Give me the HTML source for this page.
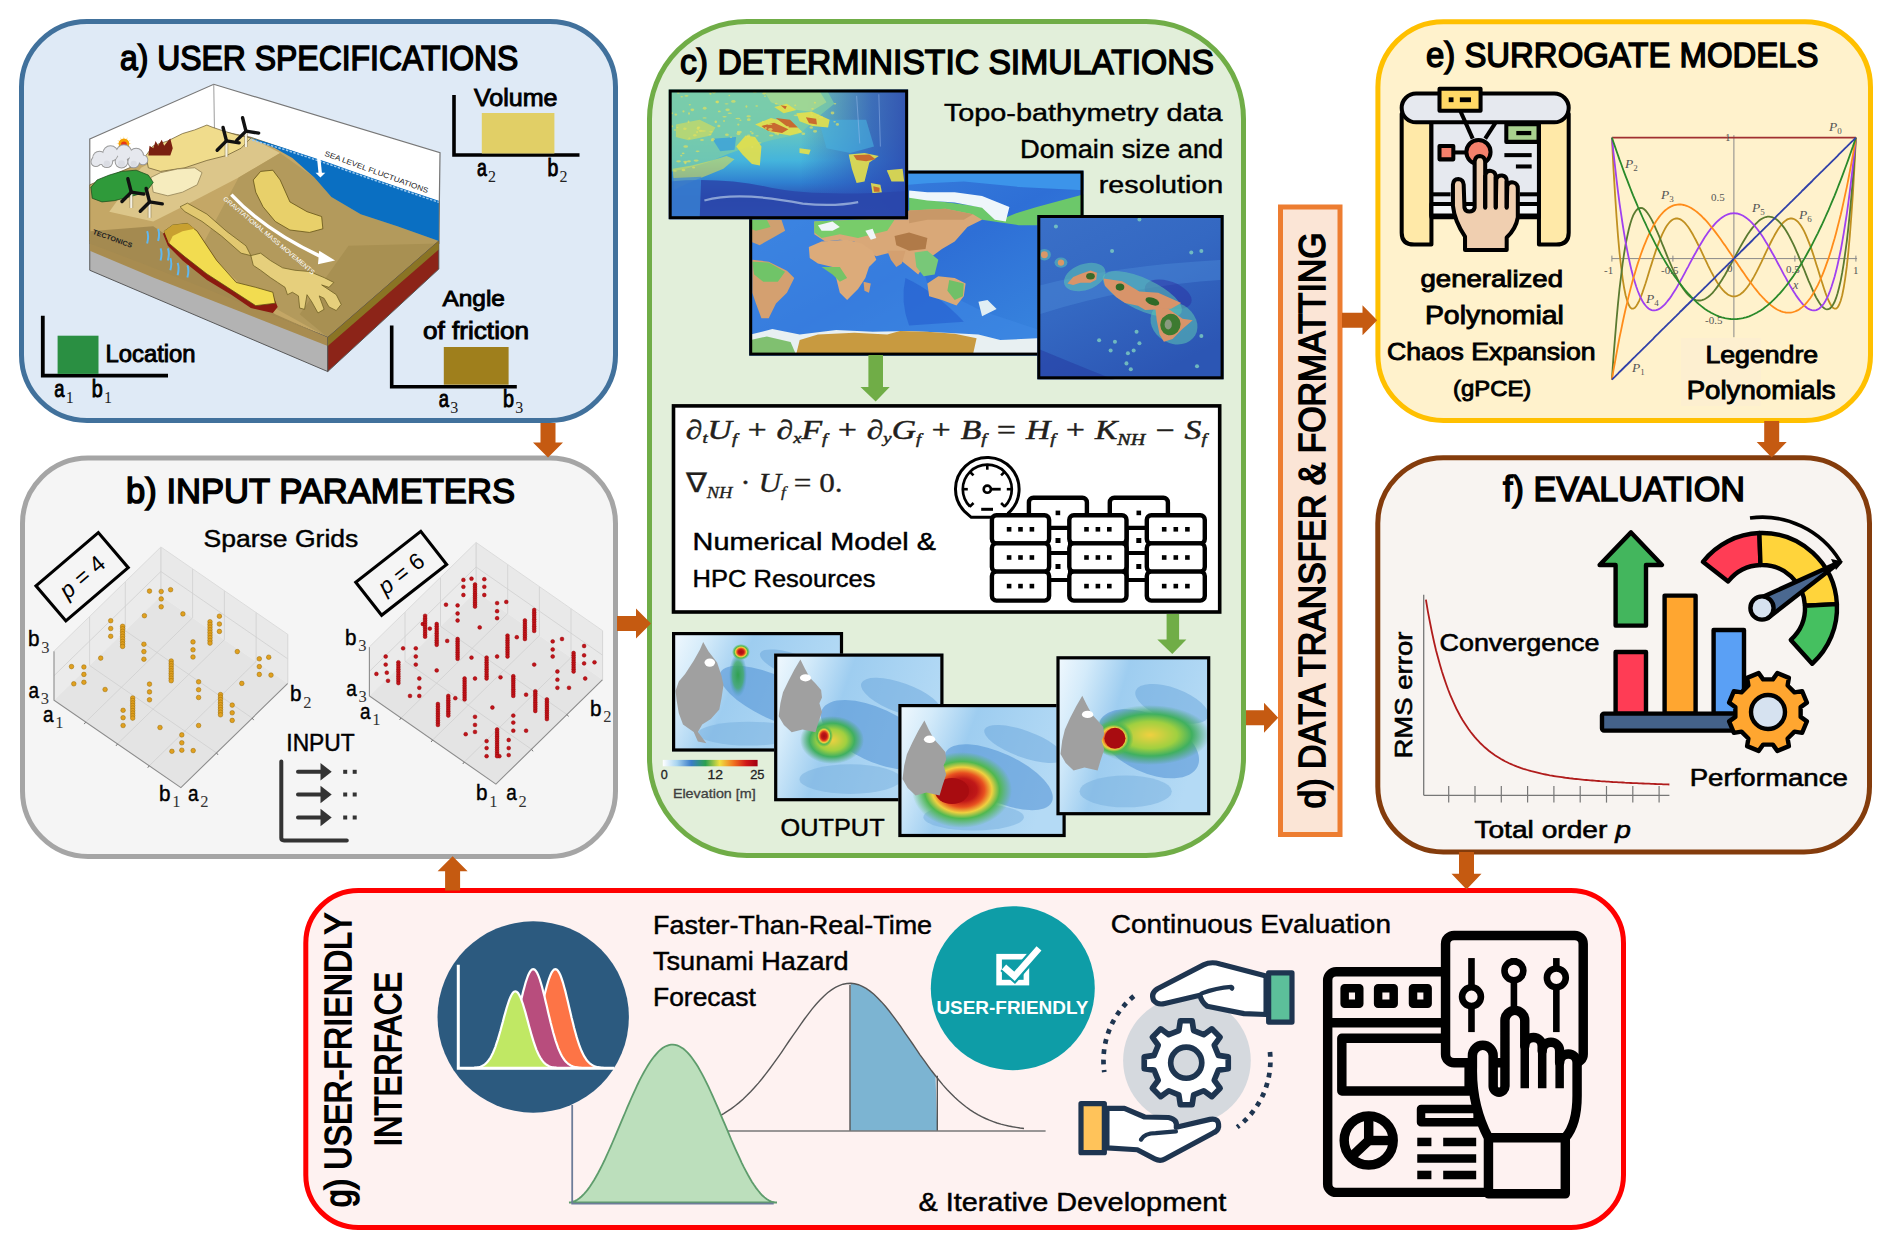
<!DOCTYPE html><html><head><meta charset="utf-8"><style>html,body{margin:0;padding:0;background:#fff;overflow:hidden;width:1892px;height:1250px;}svg{display:block;}svg{font-family:"Liberation Sans",sans-serif;}</style></head><body>
<svg width="1892" height="1250" viewBox="0 0 1892 1250">
<rect width="1892" height="1250" fill="#fff"/>
<rect x="21.5" y="21.5" width="594" height="399" rx="65.5" fill="#dfeaf6" stroke="#41719c" stroke-width="5"/>
<rect x="22.5" y="458.0" width="593" height="398.5" rx="65.5" fill="#f5f5f5" stroke="#a5a5a5" stroke-width="5"/>
<rect x="649.5" y="21.5" width="594" height="834" rx="97.5" fill="#e2efda" stroke="#70ad47" stroke-width="5"/>
<rect x="1280.5" y="207.0" width="59.5" height="627.5" rx="-2.5" fill="#fbe5d6" stroke="#ed7d31" stroke-width="5"/>
<rect x="1377.9" y="21.7" width="492.5999999999999" height="398.8" rx="65.5" fill="#fff2cc" stroke="#ffc000" stroke-width="5"/>
<rect x="1377.8" y="457.8" width="491.70000000000005" height="394.09999999999997" rx="65.5" fill="#f8f4f1" stroke="#843c0c" stroke-width="5"/>
<rect x="305.8" y="890.5" width="1317.7" height="337" rx="52.5" fill="#fef2f1" stroke="#ff0000" stroke-width="5"/>
<polygon points="540.5,423 555.5,423 555.5,442.4 563.0,442.4 548,457.6 533.0,442.4 540.5,442.4" fill="#c55a11"/>
<polygon points="617,616.1 636,616.1 636,608.6 651,623.6 636,638.6 636,631.1 617,631.1" fill="#c55a11"/>
<polygon points="1246,710.2 1264,710.2 1264,702.7 1278.2,717.7 1264,732.7 1264,725.2 1246,725.2" fill="#c55a11"/>
<polygon points="1342,312.7 1362.5,312.7 1362.5,305.2 1377.2,320.2 1362.5,335.2 1362.5,327.7 1342,327.7" fill="#c55a11"/>
<polygon points="1764.2,421 1779.2,421 1779.2,442 1786.7,442 1771.7,457.4 1756.7,442 1764.2,442" fill="#c55a11"/>
<polygon points="1459.0,852 1474.0,852 1474.0,873.8 1481.5,873.8 1466.5,889.4 1451.5,873.8 1459.0,873.8" fill="#c55a11"/>
<polygon points="445.1,890.4 460.1,890.4 460.1,871.2 467.6,871.2 452.6,856.3 437.6,871.2 445.1,871.2" fill="#c55a11"/>
<text x="120.0" y="70.0" font-size="35.65" fill="#000" stroke="#000" stroke-width="1.5" textLength="398.4" lengthAdjust="spacingAndGlyphs">a) USER SPECIFICATIONS</text>
<text x="126.0" y="502.8" font-size="35.65" fill="#000" stroke="#000" stroke-width="1.5" textLength="389.0" lengthAdjust="spacingAndGlyphs">b) INPUT PARAMETERS</text>
<text x="680.0" y="73.5" font-size="35.65" fill="#000" stroke="#000" stroke-width="1.5" textLength="534.0" lengthAdjust="spacingAndGlyphs">c) DETERMINISTIC SIMULATIONS</text>
<text x="1426.0" y="66.5" font-size="35.65" fill="#000" stroke="#000" stroke-width="1.5" textLength="392.5" lengthAdjust="spacingAndGlyphs">e) SURROGATE MODELS</text>
<text x="1503.0" y="500.7" font-size="35.65" fill="#000" stroke="#000" stroke-width="1.5" textLength="242.0" lengthAdjust="spacingAndGlyphs">f) EVALUATION</text>
<g transform="translate(1324.8,808.4) rotate(-90)">
<text x="0.0" y="0.0" font-size="36.23" fill="#000" stroke="#000" stroke-width="1.5" textLength="576.0" lengthAdjust="spacingAndGlyphs">d) DATA TRANSFER &amp; FORMATTING</text>
</g>
<g transform="translate(351.2,1207.3) rotate(-90)">
<text x="0.0" y="0.0" font-size="36.23" fill="#000" stroke="#000" stroke-width="1.5" textLength="294.4" lengthAdjust="spacingAndGlyphs">g) USER-FRIENDLY</text>
</g>
<g transform="translate(400.9,1146.6) rotate(-90)">
<text x="0.0" y="0.0" font-size="36.96" fill="#000" stroke="#000" stroke-width="1.5" textLength="174.6" lengthAdjust="spacingAndGlyphs">INTERFACE</text>
</g>
<g transform="translate(80,75) scale(0.24408)">
<polygon points="40,262 548,38 1475,318 1470,690 40,690" fill="#ffffff" stroke="#777" stroke-width="5"/>
<line x1="548" y1="38" x2="552" y2="300" stroke="#999" stroke-width="4"/>
<polygon points="40,450 250,360 548,225 700,255 1470,520 1470,680 1015,1075 40,680" fill="#c4a766" stroke="#6b5a30" stroke-width="3"/>
<polygon points="250,380 548,230 700,258 820,320 650,420 420,540 300,600 120,560" fill="#dcc68a"/>
<polygon points="820,320 960,420 1030,500 1150,570 1300,620 1470,680 1015,1075 700,900 500,700 650,420" fill="#b39a5c"/>
<polygon points="1100,700 1470,690 1015,1075 900,980" fill="#a89052"/>
<path d="M690,255 L760,275 840,300 930,330 1020,360 1120,395 1220,430 1320,465 1470,515 L1470,680 1300,620 1150,570 1030,500 960,420 870,340 800,300 Z" fill="#0a6fc2"/>
<path d="M690,262 L840,306 1020,366 1220,436 1470,522" fill="none" stroke="#9cc8ec" stroke-width="6" stroke-dasharray="10,6"/>
<path d="M270,330 L300,290 360,270 420,240 470,225 520,205 545,215 590,230 640,245 700,258 660,300 600,330 520,350 430,380 330,395 280,380 Z" fill="#f0dc8c" stroke="#6b5a30" stroke-width="3"/>
<path d="M290,420 L330,400 400,385 470,380 500,400 480,450 420,480 360,495 300,480 Z" fill="#f6ecbe" stroke="#8a7a50" stroke-width="3"/>
<path d="M45,460 L70,430 120,410 170,395 230,390 280,410 300,440 270,480 200,500 140,515 90,520 50,505 Z" fill="#2f9a3a" stroke="#1a4a1a" stroke-width="3"/>
<g fill="#f5b000"><polygon points="200,281 212,282 200,283"/><polygon points="198,291 208,298 197,293"/><polygon points="191,299 196,310 189,300"/><polygon points="181,302 180,314 179,302"/><polygon points="171,300 164,310 169,299"/><polygon points="163,293 152,298 162,291"/><polygon points="160,283 148,282 160,281"/><polygon points="162,273 152,266 163,271"/><polygon points="169,265 164,254 171,264"/><polygon points="179,262 180,250 181,262"/><polygon points="189,264 196,254 191,265"/><polygon points="197,271 208,266 198,273"/></g>
<circle cx="180" cy="282" r="22" fill="#f5a000"/><circle cx="180" cy="284" r="12" fill="#e83818"/>
<g fill="#999"><circle cx="80" cy="340" r="30"/><circle cx="125" cy="322" r="34"/><circle cx="180" cy="318" r="34"/><circle cx="230" cy="330" r="32"/><circle cx="258" cy="348" r="22"/><circle cx="110" cy="355" r="26"/><circle cx="170" cy="355" r="28"/><circle cx="220" cy="356" r="26"/><circle cx="65" cy="355" r="22"/></g>
<g fill="#e6e8ee"><circle cx="80" cy="340" r="26"/><circle cx="125" cy="322" r="30"/><circle cx="180" cy="318" r="30"/><circle cx="230" cy="330" r="28"/><circle cx="258" cy="348" r="18"/><circle cx="110" cy="355" r="22"/><circle cx="170" cy="355" r="24"/><circle cx="220" cy="356" r="22"/><circle cx="65" cy="355" r="18"/></g>
<g fill="#dadce3"><circle cx="110" cy="363" r="13"/><circle cx="170" cy="363" r="14"/><circle cx="220" cy="364" r="13"/></g>
<polygon points="280,330 285,290 300,300 310,270 320,290 335,265 345,290 360,270 370,260 380,300 370,330" fill="#7a2010"/>
<line x1="600" y1="270" x2="600" y2="335" stroke="#f4f0e0" stroke-width="10"/><line x1="594" y1="278" x2="594" y2="335" stroke="#8a7a50" stroke-width="2"/><line x1="606" y1="278" x2="606" y2="335" stroke="#8a7a50" stroke-width="2"/>
<g stroke="#111" stroke-linecap="round"><line x1="600" y1="270" x2="586" y2="215" stroke-width="14"/><line x1="600" y1="270" x2="652" y2="278" stroke-width="14"/><line x1="600" y1="270" x2="562" y2="308" stroke-width="14"/></g>
<line x1="680" y1="230" x2="680" y2="295" stroke="#f4f0e0" stroke-width="10"/><line x1="674" y1="238" x2="674" y2="295" stroke="#8a7a50" stroke-width="2"/><line x1="686" y1="238" x2="686" y2="295" stroke="#8a7a50" stroke-width="2"/>
<g stroke="#111" stroke-linecap="round"><line x1="680" y1="230" x2="666" y2="175" stroke-width="14"/><line x1="680" y1="230" x2="732" y2="238" stroke-width="14"/><line x1="680" y1="230" x2="642" y2="268" stroke-width="14"/></g>
<line x1="210" y1="480" x2="210" y2="545" stroke="#f4f0e0" stroke-width="10"/><line x1="204" y1="488" x2="204" y2="545" stroke="#8a7a50" stroke-width="2"/><line x1="216" y1="488" x2="216" y2="545" stroke="#8a7a50" stroke-width="2"/>
<g stroke="#111" stroke-linecap="round"><line x1="210" y1="480" x2="196" y2="425" stroke-width="14"/><line x1="210" y1="480" x2="262" y2="488" stroke-width="14"/><line x1="210" y1="480" x2="172" y2="518" stroke-width="14"/></g>
<line x1="285" y1="520" x2="285" y2="585" stroke="#f4f0e0" stroke-width="10"/><line x1="279" y1="528" x2="279" y2="585" stroke="#8a7a50" stroke-width="2"/><line x1="291" y1="528" x2="291" y2="585" stroke="#8a7a50" stroke-width="2"/>
<g stroke="#111" stroke-linecap="round"><line x1="285" y1="520" x2="271" y2="465" stroke-width="14"/><line x1="285" y1="520" x2="337" y2="528" stroke-width="14"/><line x1="285" y1="520" x2="247" y2="558" stroke-width="14"/></g>
<polygon points="40,680 1015,1075 1015,1215 40,800" fill="#b3b3b3" stroke="#555" stroke-width="4"/>
<polygon points="40,680 300,780 1015,1075 1015,1110 300,830 40,720" fill="#a88c50"/>
<polygon points="300,620 420,700 800,980 1015,1075 300,790 40,690 40,640" fill="#a48a50"/>
<polygon points="1015,1075 1470,680 1470,795 1015,1215" fill="#8c2418" stroke="#555" stroke-width="4"/>
<polygon points="1015,1075 1470,680 1470,715 1015,1110" fill="#8a7424"/>
<path d="M340,650 L380,620 440,610 480,640 560,760 640,860 720,880 790,900 810,950 790,975 700,955 620,900 520,840 420,760 360,700 Z" fill="#8b1a10"/>
<path d="M345,640 L380,615 440,608 480,640 560,760 640,850 720,870 790,890 800,935 720,945 620,880 520,815 430,745 365,690 Z" fill="#f2dc50" stroke="#5a4a10" stroke-width="3"/>
<path d="M345,640 L380,615 440,608 470,630 420,640 380,660 365,690 Z" fill="#c8a030"/>
<path d="M710,430 L740,395 790,390 820,430 860,520 930,560 990,580 995,630 940,645 860,635 800,600 750,540 720,480 Z" fill="#e8d06a" stroke="#5a4a10" stroke-width="3"/>
<path d="M410,540 L440,525 520,570 600,640 680,700 700,740 660,730 580,660 500,600 430,560 Z" fill="#e2c870" stroke="#6a5a20" stroke-width="3"/>
<path d="M700,740 L740,730 780,760 830,790 880,800 940,805 1000,830 1040,850 1020,870 990,860 1050,900 1070,940 1050,965 1020,950 1000,915 980,905 1000,960 975,975 950,930 930,900 920,960 900,955 895,905 870,890 850,900 840,870 810,850 780,830 740,800 710,780 Z" fill="#e6cf7c" stroke="#6a5a20" stroke-width="3"/>
<path d="M620,490 Q760,640 1000,750" fill="none" stroke="#fff" stroke-width="14"/>
<polygon points="980,720 1045,760 975,775" fill="#fff"/>
<path d="M975,310 L985,410" stroke="#fff" stroke-width="14"/><polygon points="955,320 980,300 1005,320" fill="#fff"/><polygon points="965,400 985,420 1005,400" fill="#fff"/>
<path d="M275,690 q8,-30 0,-50" stroke="#60b8f0" stroke-width="8" fill="none"/>
<path d="M320,680 q8,-30 0,-50" stroke="#60b8f0" stroke-width="8" fill="none"/>
<path d="M330,760 q8,-30 0,-50" stroke="#60b8f0" stroke-width="8" fill="none"/>
<path d="M360,760 q8,-30 0,-50" stroke="#60b8f0" stroke-width="8" fill="none"/>
<path d="M370,800 q8,-30 0,-50" stroke="#60b8f0" stroke-width="8" fill="none"/>
<path d="M400,820 q8,-30 0,-50" stroke="#60b8f0" stroke-width="8" fill="none"/>
<path d="M440,830 q8,-30 0,-50" stroke="#60b8f0" stroke-width="8" fill="none"/>
<text x="1000" y="330" font-size="30" fill="#222" transform="rotate(20 1000 330)" textLength="450" lengthAdjust="spacingAndGlyphs">SEA LEVEL FLUCTUATIONS</text>
<text x="585" y="510" font-size="26" fill="#fff" transform="rotate(40 585 510)" textLength="480" lengthAdjust="spacingAndGlyphs">GRAVITATIONAL MASS MOVEMENTS</text>
<text x="50" y="650" font-size="28" fill="#222" font-weight="bold" transform="rotate(20 50 650)" textLength="170" lengthAdjust="spacingAndGlyphs">TECTONICS</text>
</g>
<path d="M454,95 V155 H579.5" fill="none" stroke="#000" stroke-width="3.6"/>
<rect x="481.8" y="113" width="72.6" height="40.5" fill="#e1cf66"/>
<text x="473.9" y="105.5" font-size="24.20" fill="#000" stroke="#000" stroke-width="0.9" textLength="83.6" lengthAdjust="spacingAndGlyphs">Volume</text>
<text x="477.0" y="176.4" font-size="23.00" fill="#000" stroke="#000" stroke-width="0.9" textLength="9.8" lengthAdjust="spacingAndGlyphs">a</text>
<text x="488.0" y="182.4" font-size="16.00" fill="#222" style="font-family:'Liberation Serif'">2</text>
<text x="547.4" y="176.4" font-size="23.00" fill="#000" stroke="#000" stroke-width="0.9" textLength="10.8" lengthAdjust="spacingAndGlyphs">b</text>
<text x="559.4" y="182.4" font-size="16.00" fill="#222" style="font-family:'Liberation Serif'">2</text>
<path d="M42.8,315.7 V375.6 H168" fill="none" stroke="#000" stroke-width="3.8"/>
<rect x="57.6" y="335.7" width="40.9" height="38.2" fill="#2a8f42"/>
<text x="105.6" y="361.8" font-size="23.33" fill="#000" stroke="#000" stroke-width="0.9" textLength="90.0" lengthAdjust="spacingAndGlyphs">Location</text>
<text x="54.3" y="397.0" font-size="23.00" fill="#000" stroke="#000" stroke-width="0.9" textLength="10.2" lengthAdjust="spacingAndGlyphs">a</text>
<text x="65.7" y="403.0" font-size="16.00" fill="#222" style="font-family:'Liberation Serif'">1</text>
<text x="91.8" y="397.0" font-size="23.00" fill="#000" stroke="#000" stroke-width="0.9" textLength="11.0" lengthAdjust="spacingAndGlyphs">b</text>
<text x="104.0" y="403.0" font-size="16.00" fill="#222" style="font-family:'Liberation Serif'">1</text>
<path d="M391.7,325.4 V386.7 H516.8" fill="none" stroke="#000" stroke-width="3.6"/>
<rect x="443.8" y="347" width="64.8" height="37.7" fill="#9f7f1c"/>
<text x="442.5" y="306.0" font-size="22.32" fill="#000" stroke="#000" stroke-width="0.9" textLength="62.4" lengthAdjust="spacingAndGlyphs">Angle</text>
<text x="423.0" y="338.5" font-size="23.04" fill="#000" stroke="#000" stroke-width="0.9" textLength="106.0" lengthAdjust="spacingAndGlyphs">of friction</text>
<text x="438.8" y="407.0" font-size="23.00" fill="#000" stroke="#000" stroke-width="0.9" textLength="10.2" lengthAdjust="spacingAndGlyphs">a</text>
<text x="450.2" y="413.0" font-size="16.00" fill="#222" style="font-family:'Liberation Serif'">3</text>
<text x="503.0" y="407.0" font-size="23.00" fill="#000" stroke="#000" stroke-width="0.9" textLength="11.0" lengthAdjust="spacingAndGlyphs">b</text>
<text x="515.2" y="413.0" font-size="16.00" fill="#222" style="font-family:'Liberation Serif'">3</text>
<text x="126.0" y="502.8" font-size="1.45" fill="#000"></text>
<text x="203.6" y="546.8" font-size="23.77" fill="#000" stroke="#000" stroke-width="0.45" textLength="154.7" lengthAdjust="spacingAndGlyphs">Sparse Grids</text>
<polygon points="54.0,700.2 160.9,596.0 160.9,547.0 54.0,651.2" fill="#ebebeb"/>
<polygon points="160.9,596.0 287.8,683.4 287.8,634.4 160.9,547.0" fill="#e9e9e9"/>
<polygon points="54.0,700.2 180.9,787.6 287.8,683.4 160.9,596.0" fill="#e4e4e4"/>
<line x1="85.7" y1="722.1" x2="192.6" y2="617.8" stroke="#cfcfcf" stroke-width="0.8"/>
<line x1="117.5" y1="743.9" x2="224.4" y2="639.7" stroke="#cfcfcf" stroke-width="0.8"/>
<line x1="149.2" y1="765.8" x2="256.1" y2="661.5" stroke="#cfcfcf" stroke-width="0.8"/>
<line x1="216.5" y1="752.9" x2="89.6" y2="665.5" stroke="#cfcfcf" stroke-width="0.8"/>
<line x1="252.2" y1="718.1" x2="125.3" y2="630.7" stroke="#cfcfcf" stroke-width="0.8"/>
<line x1="89.6" y1="665.5" x2="89.6" y2="616.5" stroke="#cfcfcf" stroke-width="0.8"/>
<line x1="125.3" y1="630.7" x2="125.3" y2="581.7" stroke="#cfcfcf" stroke-width="0.8"/>
<line x1="192.6" y1="617.8" x2="192.6" y2="568.8" stroke="#cfcfcf" stroke-width="0.8"/>
<line x1="224.4" y1="639.7" x2="224.4" y2="590.7" stroke="#cfcfcf" stroke-width="0.8"/>
<line x1="256.1" y1="661.5" x2="256.1" y2="612.5" stroke="#cfcfcf" stroke-width="0.8"/>
<line x1="54.0" y1="675.7" x2="160.9" y2="571.5" stroke="#cfcfcf" stroke-width="0.8"/>
<line x1="160.9" y1="571.5" x2="287.8" y2="658.9" stroke="#cfcfcf" stroke-width="0.8"/>
<polyline points="54.0,651.2 54.0,700.2 180.9,787.6 287.8,683.4" fill="none" stroke="#8c8c8c" stroke-width="1.1"/>
<line x1="160.9" y1="596.0" x2="160.9" y2="547.0" stroke="#d0d0d0" stroke-width="1"/>
<polyline points="54.0,651.2 160.9,547.0 287.8,634.4" fill="none" stroke="#dcdcdc" stroke-width="1"/>
<line x1="287.8" y1="683.4" x2="287.8" y2="634.4" stroke="#d6d6d6" stroke-width="1"/>
<line x1="85.7" y1="722.1" x2="84.2" y2="724.1" stroke="#777" stroke-width="1"/>
<line x1="117.5" y1="743.9" x2="116.0" y2="745.9" stroke="#777" stroke-width="1"/>
<line x1="149.2" y1="765.8" x2="147.7" y2="767.8" stroke="#777" stroke-width="1"/>
<line x1="216.5" y1="752.9" x2="218.0" y2="754.9" stroke="#777" stroke-width="1"/>
<line x1="252.2" y1="718.1" x2="253.7" y2="720.1" stroke="#777" stroke-width="1"/>
<circle cx="149.5" cy="591.1" r="2.3" fill="#e0a020" stroke="#9a6a00" stroke-width="0.5"/>
<circle cx="161.2" cy="591.5" r="2.3" fill="#e0a020" stroke="#9a6a00" stroke-width="0.5"/>
<circle cx="170.6" cy="589.7" r="2.3" fill="#e0a020" stroke="#9a6a00" stroke-width="0.5"/>
<circle cx="161.2" cy="598.9" r="2.3" fill="#e0a020" stroke="#9a6a00" stroke-width="0.5"/>
<circle cx="161.2" cy="606.8" r="2.3" fill="#e0a020" stroke="#9a6a00" stroke-width="0.5"/>
<circle cx="144.4" cy="615.7" r="2.3" fill="#e0a020" stroke="#9a6a00" stroke-width="0.5"/>
<circle cx="182.9" cy="613.9" r="2.3" fill="#e0a020" stroke="#9a6a00" stroke-width="0.5"/>
<circle cx="110.7" cy="620.7" r="2.3" fill="#e0a020" stroke="#9a6a00" stroke-width="0.5"/>
<circle cx="110.7" cy="628.5" r="2.3" fill="#e0a020" stroke="#9a6a00" stroke-width="0.5"/>
<circle cx="110.7" cy="636.3" r="2.3" fill="#e0a020" stroke="#9a6a00" stroke-width="0.5"/>
<circle cx="219.4" cy="616.2" r="2.3" fill="#e0a020" stroke="#9a6a00" stroke-width="0.5"/>
<circle cx="219.4" cy="624.0" r="2.3" fill="#e0a020" stroke="#9a6a00" stroke-width="0.5"/>
<circle cx="219.4" cy="631.4" r="2.3" fill="#e0a020" stroke="#9a6a00" stroke-width="0.5"/>
<circle cx="143.9" cy="644.2" r="2.3" fill="#e0a020" stroke="#9a6a00" stroke-width="0.5"/>
<circle cx="143.9" cy="651.6" r="2.3" fill="#e0a020" stroke="#9a6a00" stroke-width="0.5"/>
<circle cx="143.9" cy="659.2" r="2.3" fill="#e0a020" stroke="#9a6a00" stroke-width="0.5"/>
<circle cx="193.0" cy="641.9" r="2.3" fill="#e0a020" stroke="#9a6a00" stroke-width="0.5"/>
<circle cx="193.0" cy="649.8" r="2.3" fill="#e0a020" stroke="#9a6a00" stroke-width="0.5"/>
<circle cx="193.0" cy="657.0" r="2.3" fill="#e0a020" stroke="#9a6a00" stroke-width="0.5"/>
<circle cx="100.7" cy="658.1" r="2.3" fill="#e0a020" stroke="#9a6a00" stroke-width="0.5"/>
<circle cx="237.3" cy="651.6" r="2.3" fill="#e0a020" stroke="#9a6a00" stroke-width="0.5"/>
<circle cx="259.3" cy="658.8" r="2.3" fill="#e0a020" stroke="#9a6a00" stroke-width="0.5"/>
<circle cx="268.7" cy="657.2" r="2.3" fill="#e0a020" stroke="#9a6a00" stroke-width="0.5"/>
<circle cx="259.3" cy="666.6" r="2.3" fill="#e0a020" stroke="#9a6a00" stroke-width="0.5"/>
<circle cx="259.3" cy="674.4" r="2.3" fill="#e0a020" stroke="#9a6a00" stroke-width="0.5"/>
<circle cx="271.0" cy="675.1" r="2.3" fill="#e0a020" stroke="#9a6a00" stroke-width="0.5"/>
<circle cx="71.5" cy="666.6" r="2.3" fill="#e0a020" stroke="#9a6a00" stroke-width="0.5"/>
<circle cx="83.9" cy="667.0" r="2.3" fill="#e0a020" stroke="#9a6a00" stroke-width="0.5"/>
<circle cx="83.9" cy="674.4" r="2.3" fill="#e0a020" stroke="#9a6a00" stroke-width="0.5"/>
<circle cx="73.8" cy="683.8" r="2.3" fill="#e0a020" stroke="#9a6a00" stroke-width="0.5"/>
<circle cx="83.9" cy="682.3" r="2.3" fill="#e0a020" stroke="#9a6a00" stroke-width="0.5"/>
<circle cx="105.1" cy="689.5" r="2.3" fill="#e0a020" stroke="#9a6a00" stroke-width="0.5"/>
<circle cx="149.5" cy="684.1" r="2.3" fill="#e0a020" stroke="#9a6a00" stroke-width="0.5"/>
<circle cx="149.5" cy="691.9" r="2.3" fill="#e0a020" stroke="#9a6a00" stroke-width="0.5"/>
<circle cx="149.5" cy="699.8" r="2.3" fill="#e0a020" stroke="#9a6a00" stroke-width="0.5"/>
<circle cx="198.6" cy="681.8" r="2.3" fill="#e0a020" stroke="#9a6a00" stroke-width="0.5"/>
<circle cx="198.6" cy="689.7" r="2.3" fill="#e0a020" stroke="#9a6a00" stroke-width="0.5"/>
<circle cx="198.6" cy="697.5" r="2.3" fill="#e0a020" stroke="#9a6a00" stroke-width="0.5"/>
<circle cx="241.8" cy="683.4" r="2.3" fill="#e0a020" stroke="#9a6a00" stroke-width="0.5"/>
<circle cx="123.1" cy="710.3" r="2.3" fill="#e0a020" stroke="#9a6a00" stroke-width="0.5"/>
<circle cx="123.1" cy="717.7" r="2.3" fill="#e0a020" stroke="#9a6a00" stroke-width="0.5"/>
<circle cx="123.1" cy="725.5" r="2.3" fill="#e0a020" stroke="#9a6a00" stroke-width="0.5"/>
<circle cx="232.2" cy="705.1" r="2.3" fill="#e0a020" stroke="#9a6a00" stroke-width="0.5"/>
<circle cx="232.2" cy="712.8" r="2.3" fill="#e0a020" stroke="#9a6a00" stroke-width="0.5"/>
<circle cx="232.2" cy="720.4" r="2.3" fill="#e0a020" stroke="#9a6a00" stroke-width="0.5"/>
<circle cx="160.0" cy="727.5" r="2.3" fill="#e0a020" stroke="#9a6a00" stroke-width="0.5"/>
<circle cx="198.6" cy="725.5" r="2.3" fill="#e0a020" stroke="#9a6a00" stroke-width="0.5"/>
<circle cx="181.8" cy="734.9" r="2.3" fill="#e0a020" stroke="#9a6a00" stroke-width="0.5"/>
<circle cx="181.8" cy="742.8" r="2.3" fill="#e0a020" stroke="#9a6a00" stroke-width="0.5"/>
<circle cx="171.9" cy="751.3" r="2.3" fill="#e0a020" stroke="#9a6a00" stroke-width="0.5"/>
<circle cx="181.8" cy="750.2" r="2.3" fill="#e0a020" stroke="#9a6a00" stroke-width="0.5"/>
<circle cx="193.2" cy="750.6" r="2.3" fill="#e0a020" stroke="#9a6a00" stroke-width="0.5"/>
<circle cx="122.6" cy="626.3" r="2.3" fill="#e0a020" stroke="#9a6a00" stroke-width="0.5"/>
<circle cx="122.6" cy="628.8" r="2.3" fill="#e0a020" stroke="#9a6a00" stroke-width="0.5"/>
<circle cx="122.6" cy="631.3" r="2.3" fill="#e0a020" stroke="#9a6a00" stroke-width="0.5"/>
<circle cx="122.6" cy="633.8" r="2.3" fill="#e0a020" stroke="#9a6a00" stroke-width="0.5"/>
<circle cx="122.6" cy="636.3" r="2.3" fill="#e0a020" stroke="#9a6a00" stroke-width="0.5"/>
<circle cx="122.6" cy="638.9" r="2.3" fill="#e0a020" stroke="#9a6a00" stroke-width="0.5"/>
<circle cx="122.6" cy="641.4" r="2.3" fill="#e0a020" stroke="#9a6a00" stroke-width="0.5"/>
<circle cx="122.6" cy="643.9" r="2.3" fill="#e0a020" stroke="#9a6a00" stroke-width="0.5"/>
<circle cx="122.6" cy="646.4" r="2.3" fill="#e0a020" stroke="#9a6a00" stroke-width="0.5"/>
<circle cx="210.0" cy="621.8" r="2.3" fill="#e0a020" stroke="#9a6a00" stroke-width="0.5"/>
<circle cx="210.0" cy="624.4" r="2.3" fill="#e0a020" stroke="#9a6a00" stroke-width="0.5"/>
<circle cx="210.0" cy="627.1" r="2.3" fill="#e0a020" stroke="#9a6a00" stroke-width="0.5"/>
<circle cx="210.0" cy="629.8" r="2.3" fill="#e0a020" stroke="#9a6a00" stroke-width="0.5"/>
<circle cx="210.0" cy="632.4" r="2.3" fill="#e0a020" stroke="#9a6a00" stroke-width="0.5"/>
<circle cx="210.0" cy="635.1" r="2.3" fill="#e0a020" stroke="#9a6a00" stroke-width="0.5"/>
<circle cx="210.0" cy="637.7" r="2.3" fill="#e0a020" stroke="#9a6a00" stroke-width="0.5"/>
<circle cx="210.0" cy="640.4" r="2.3" fill="#e0a020" stroke="#9a6a00" stroke-width="0.5"/>
<circle cx="210.0" cy="643.1" r="2.3" fill="#e0a020" stroke="#9a6a00" stroke-width="0.5"/>
<circle cx="171.2" cy="661.0" r="2.3" fill="#e0a020" stroke="#9a6a00" stroke-width="0.5"/>
<circle cx="171.2" cy="663.5" r="2.3" fill="#e0a020" stroke="#9a6a00" stroke-width="0.5"/>
<circle cx="171.2" cy="665.9" r="2.3" fill="#e0a020" stroke="#9a6a00" stroke-width="0.5"/>
<circle cx="171.2" cy="668.4" r="2.3" fill="#e0a020" stroke="#9a6a00" stroke-width="0.5"/>
<circle cx="171.2" cy="670.9" r="2.3" fill="#e0a020" stroke="#9a6a00" stroke-width="0.5"/>
<circle cx="171.2" cy="673.3" r="2.3" fill="#e0a020" stroke="#9a6a00" stroke-width="0.5"/>
<circle cx="171.2" cy="675.8" r="2.3" fill="#e0a020" stroke="#9a6a00" stroke-width="0.5"/>
<circle cx="171.2" cy="678.2" r="2.3" fill="#e0a020" stroke="#9a6a00" stroke-width="0.5"/>
<circle cx="171.2" cy="680.7" r="2.3" fill="#e0a020" stroke="#9a6a00" stroke-width="0.5"/>
<circle cx="132.7" cy="698.0" r="2.3" fill="#e0a020" stroke="#9a6a00" stroke-width="0.5"/>
<circle cx="132.7" cy="700.5" r="2.3" fill="#e0a020" stroke="#9a6a00" stroke-width="0.5"/>
<circle cx="132.7" cy="703.0" r="2.3" fill="#e0a020" stroke="#9a6a00" stroke-width="0.5"/>
<circle cx="132.7" cy="705.5" r="2.3" fill="#e0a020" stroke="#9a6a00" stroke-width="0.5"/>
<circle cx="132.7" cy="708.0" r="2.3" fill="#e0a020" stroke="#9a6a00" stroke-width="0.5"/>
<circle cx="132.7" cy="710.6" r="2.3" fill="#e0a020" stroke="#9a6a00" stroke-width="0.5"/>
<circle cx="132.7" cy="713.1" r="2.3" fill="#e0a020" stroke="#9a6a00" stroke-width="0.5"/>
<circle cx="132.7" cy="715.6" r="2.3" fill="#e0a020" stroke="#9a6a00" stroke-width="0.5"/>
<circle cx="132.7" cy="718.1" r="2.3" fill="#e0a020" stroke="#9a6a00" stroke-width="0.5"/>
<circle cx="220.5" cy="694.6" r="2.3" fill="#e0a020" stroke="#9a6a00" stroke-width="0.5"/>
<circle cx="220.5" cy="697.1" r="2.3" fill="#e0a020" stroke="#9a6a00" stroke-width="0.5"/>
<circle cx="220.5" cy="699.6" r="2.3" fill="#e0a020" stroke="#9a6a00" stroke-width="0.5"/>
<circle cx="220.5" cy="702.2" r="2.3" fill="#e0a020" stroke="#9a6a00" stroke-width="0.5"/>
<circle cx="220.5" cy="704.7" r="2.3" fill="#e0a020" stroke="#9a6a00" stroke-width="0.5"/>
<circle cx="220.5" cy="707.2" r="2.3" fill="#e0a020" stroke="#9a6a00" stroke-width="0.5"/>
<circle cx="220.5" cy="709.7" r="2.3" fill="#e0a020" stroke="#9a6a00" stroke-width="0.5"/>
<circle cx="220.5" cy="712.2" r="2.3" fill="#e0a020" stroke="#9a6a00" stroke-width="0.5"/>
<circle cx="220.5" cy="714.8" r="2.3" fill="#e0a020" stroke="#9a6a00" stroke-width="0.5"/>
<polygon points="369.4,695.9 476.1,591.5 476.1,542.5 369.4,646.9" fill="#ebebeb"/>
<polygon points="476.1,591.5 602.6,679.7 602.6,630.7 476.1,542.5" fill="#e9e9e9"/>
<polygon points="369.4,695.9 495.9,784.1 602.6,679.7 476.1,591.5" fill="#e4e4e4"/>
<line x1="401.0" y1="718.0" x2="507.7" y2="613.5" stroke="#cfcfcf" stroke-width="0.8"/>
<line x1="432.6" y1="740.0" x2="539.4" y2="635.6" stroke="#cfcfcf" stroke-width="0.8"/>
<line x1="464.3" y1="762.0" x2="571.0" y2="657.6" stroke="#cfcfcf" stroke-width="0.8"/>
<line x1="531.5" y1="749.3" x2="405.0" y2="661.1" stroke="#cfcfcf" stroke-width="0.8"/>
<line x1="567.0" y1="714.5" x2="440.5" y2="626.3" stroke="#cfcfcf" stroke-width="0.8"/>
<line x1="405.0" y1="661.1" x2="405.0" y2="612.1" stroke="#cfcfcf" stroke-width="0.8"/>
<line x1="440.5" y1="626.3" x2="440.5" y2="577.3" stroke="#cfcfcf" stroke-width="0.8"/>
<line x1="507.7" y1="613.5" x2="507.7" y2="564.5" stroke="#cfcfcf" stroke-width="0.8"/>
<line x1="539.4" y1="635.6" x2="539.4" y2="586.6" stroke="#cfcfcf" stroke-width="0.8"/>
<line x1="571.0" y1="657.6" x2="571.0" y2="608.6" stroke="#cfcfcf" stroke-width="0.8"/>
<line x1="369.4" y1="671.4" x2="476.1" y2="567.0" stroke="#cfcfcf" stroke-width="0.8"/>
<line x1="476.1" y1="567.0" x2="602.6" y2="655.2" stroke="#cfcfcf" stroke-width="0.8"/>
<polyline points="369.4,646.9 369.4,695.9 495.9,784.1 602.6,679.7" fill="none" stroke="#8c8c8c" stroke-width="1.1"/>
<line x1="476.1" y1="591.5" x2="476.1" y2="542.5" stroke="#d0d0d0" stroke-width="1"/>
<polyline points="369.4,646.9 476.1,542.5 602.6,630.7" fill="none" stroke="#dcdcdc" stroke-width="1"/>
<line x1="602.6" y1="679.7" x2="602.6" y2="630.7" stroke="#d6d6d6" stroke-width="1"/>
<line x1="401.0" y1="718.0" x2="399.5" y2="720.0" stroke="#777" stroke-width="1"/>
<line x1="432.6" y1="740.0" x2="431.1" y2="742.0" stroke="#777" stroke-width="1"/>
<line x1="464.3" y1="762.0" x2="462.8" y2="764.0" stroke="#777" stroke-width="1"/>
<line x1="531.5" y1="749.3" x2="533.0" y2="751.3" stroke="#777" stroke-width="1"/>
<line x1="567.0" y1="714.5" x2="568.5" y2="716.5" stroke="#777" stroke-width="1"/>
<circle cx="463.4" cy="579.9" r="1.9" fill="#c0141c" stroke="#900" stroke-width="0.5"/>
<circle cx="463.4" cy="586.8" r="1.9" fill="#c0141c" stroke="#900" stroke-width="0.5"/>
<circle cx="463.4" cy="595.0" r="1.9" fill="#c0141c" stroke="#900" stroke-width="0.5"/>
<circle cx="471.5" cy="578.7" r="1.9" fill="#c0141c" stroke="#900" stroke-width="0.5"/>
<circle cx="484.3" cy="579.2" r="1.9" fill="#c0141c" stroke="#900" stroke-width="0.5"/>
<circle cx="484.3" cy="586.8" r="1.9" fill="#c0141c" stroke="#900" stroke-width="0.5"/>
<circle cx="484.3" cy="595.0" r="1.9" fill="#c0141c" stroke="#900" stroke-width="0.5"/>
<circle cx="457.6" cy="605.4" r="1.9" fill="#c0141c" stroke="#900" stroke-width="0.5"/>
<circle cx="457.6" cy="613.5" r="1.9" fill="#c0141c" stroke="#900" stroke-width="0.5"/>
<circle cx="457.6" cy="620.5" r="1.9" fill="#c0141c" stroke="#900" stroke-width="0.5"/>
<circle cx="446.0" cy="604.7" r="1.9" fill="#c0141c" stroke="#900" stroke-width="0.5"/>
<circle cx="497.1" cy="603.1" r="1.9" fill="#c0141c" stroke="#900" stroke-width="0.5"/>
<circle cx="497.1" cy="611.2" r="1.9" fill="#c0141c" stroke="#900" stroke-width="0.5"/>
<circle cx="497.1" cy="618.2" r="1.9" fill="#c0141c" stroke="#900" stroke-width="0.5"/>
<circle cx="506.3" cy="601.9" r="1.9" fill="#c0141c" stroke="#900" stroke-width="0.5"/>
<circle cx="422.8" cy="624.0" r="1.9" fill="#c0141c" stroke="#900" stroke-width="0.5"/>
<circle cx="429.8" cy="628.6" r="1.9" fill="#c0141c" stroke="#900" stroke-width="0.5"/>
<circle cx="447.2" cy="640.9" r="1.9" fill="#c0141c" stroke="#900" stroke-width="0.5"/>
<circle cx="479.7" cy="627.4" r="1.9" fill="#c0141c" stroke="#900" stroke-width="0.5"/>
<circle cx="516.8" cy="637.2" r="1.9" fill="#c0141c" stroke="#900" stroke-width="0.5"/>
<circle cx="471.5" cy="657.6" r="1.9" fill="#c0141c" stroke="#900" stroke-width="0.5"/>
<circle cx="497.1" cy="656.5" r="1.9" fill="#c0141c" stroke="#900" stroke-width="0.5"/>
<circle cx="552.7" cy="641.4" r="1.9" fill="#c0141c" stroke="#900" stroke-width="0.5"/>
<circle cx="562.0" cy="639.0" r="1.9" fill="#c0141c" stroke="#900" stroke-width="0.5"/>
<circle cx="552.7" cy="649.5" r="1.9" fill="#c0141c" stroke="#900" stroke-width="0.5"/>
<circle cx="552.7" cy="656.5" r="1.9" fill="#c0141c" stroke="#900" stroke-width="0.5"/>
<circle cx="534.2" cy="664.6" r="1.9" fill="#c0141c" stroke="#900" stroke-width="0.5"/>
<circle cx="584.1" cy="646.0" r="1.9" fill="#c0141c" stroke="#900" stroke-width="0.5"/>
<circle cx="584.1" cy="655.3" r="1.9" fill="#c0141c" stroke="#900" stroke-width="0.5"/>
<circle cx="584.1" cy="663.4" r="1.9" fill="#c0141c" stroke="#900" stroke-width="0.5"/>
<circle cx="594.5" cy="662.3" r="1.9" fill="#c0141c" stroke="#900" stroke-width="0.5"/>
<circle cx="585.2" cy="678.5" r="1.9" fill="#c0141c" stroke="#900" stroke-width="0.5"/>
<circle cx="385.7" cy="656.5" r="1.9" fill="#c0141c" stroke="#900" stroke-width="0.5"/>
<circle cx="385.7" cy="664.6" r="1.9" fill="#c0141c" stroke="#900" stroke-width="0.5"/>
<circle cx="386.8" cy="672.7" r="1.9" fill="#c0141c" stroke="#900" stroke-width="0.5"/>
<circle cx="388.0" cy="680.8" r="1.9" fill="#c0141c" stroke="#900" stroke-width="0.5"/>
<circle cx="376.4" cy="673.9" r="1.9" fill="#c0141c" stroke="#900" stroke-width="0.5"/>
<circle cx="403.1" cy="648.3" r="1.9" fill="#c0141c" stroke="#900" stroke-width="0.5"/>
<circle cx="415.8" cy="648.3" r="1.9" fill="#c0141c" stroke="#900" stroke-width="0.5"/>
<circle cx="415.8" cy="656.5" r="1.9" fill="#c0141c" stroke="#900" stroke-width="0.5"/>
<circle cx="415.8" cy="664.6" r="1.9" fill="#c0141c" stroke="#900" stroke-width="0.5"/>
<circle cx="436.7" cy="670.4" r="1.9" fill="#c0141c" stroke="#900" stroke-width="0.5"/>
<circle cx="419.3" cy="678.5" r="1.9" fill="#c0141c" stroke="#900" stroke-width="0.5"/>
<circle cx="419.3" cy="687.8" r="1.9" fill="#c0141c" stroke="#900" stroke-width="0.5"/>
<circle cx="419.3" cy="695.9" r="1.9" fill="#c0141c" stroke="#900" stroke-width="0.5"/>
<circle cx="410.0" cy="695.9" r="1.9" fill="#c0141c" stroke="#900" stroke-width="0.5"/>
<circle cx="557.4" cy="671.5" r="1.9" fill="#c0141c" stroke="#900" stroke-width="0.5"/>
<circle cx="557.4" cy="679.7" r="1.9" fill="#c0141c" stroke="#900" stroke-width="0.5"/>
<circle cx="557.4" cy="687.8" r="1.9" fill="#c0141c" stroke="#900" stroke-width="0.5"/>
<circle cx="569.0" cy="687.8" r="1.9" fill="#c0141c" stroke="#900" stroke-width="0.5"/>
<circle cx="475.0" cy="678.5" r="1.9" fill="#c0141c" stroke="#900" stroke-width="0.5"/>
<circle cx="455.3" cy="698.2" r="1.9" fill="#c0141c" stroke="#900" stroke-width="0.5"/>
<circle cx="500.5" cy="677.3" r="1.9" fill="#c0141c" stroke="#900" stroke-width="0.5"/>
<circle cx="526.1" cy="694.7" r="1.9" fill="#c0141c" stroke="#900" stroke-width="0.5"/>
<circle cx="492.4" cy="707.5" r="1.9" fill="#c0141c" stroke="#900" stroke-width="0.5"/>
<circle cx="475.0" cy="716.8" r="1.9" fill="#c0141c" stroke="#900" stroke-width="0.5"/>
<circle cx="475.0" cy="724.9" r="1.9" fill="#c0141c" stroke="#900" stroke-width="0.5"/>
<circle cx="475.0" cy="731.9" r="1.9" fill="#c0141c" stroke="#900" stroke-width="0.5"/>
<circle cx="465.7" cy="734.2" r="1.9" fill="#c0141c" stroke="#900" stroke-width="0.5"/>
<circle cx="513.3" cy="715.6" r="1.9" fill="#c0141c" stroke="#900" stroke-width="0.5"/>
<circle cx="513.3" cy="722.6" r="1.9" fill="#c0141c" stroke="#900" stroke-width="0.5"/>
<circle cx="513.3" cy="730.7" r="1.9" fill="#c0141c" stroke="#900" stroke-width="0.5"/>
<circle cx="526.1" cy="730.7" r="1.9" fill="#c0141c" stroke="#900" stroke-width="0.5"/>
<circle cx="486.6" cy="741.1" r="1.9" fill="#c0141c" stroke="#900" stroke-width="0.5"/>
<circle cx="486.6" cy="748.1" r="1.9" fill="#c0141c" stroke="#900" stroke-width="0.5"/>
<circle cx="486.6" cy="756.2" r="1.9" fill="#c0141c" stroke="#900" stroke-width="0.5"/>
<circle cx="508.7" cy="740.0" r="1.9" fill="#c0141c" stroke="#900" stroke-width="0.5"/>
<circle cx="508.7" cy="748.1" r="1.9" fill="#c0141c" stroke="#900" stroke-width="0.5"/>
<circle cx="508.7" cy="755.1" r="1.9" fill="#c0141c" stroke="#900" stroke-width="0.5"/>
<circle cx="499.4" cy="756.2" r="1.9" fill="#c0141c" stroke="#900" stroke-width="0.5"/>
<circle cx="475.0" cy="584.5" r="1.9" fill="#c0141c" stroke="#900" stroke-width="0.5"/>
<circle cx="475.0" cy="586.7" r="1.9" fill="#c0141c" stroke="#900" stroke-width="0.5"/>
<circle cx="475.0" cy="588.9" r="1.9" fill="#c0141c" stroke="#900" stroke-width="0.5"/>
<circle cx="475.0" cy="591.1" r="1.9" fill="#c0141c" stroke="#900" stroke-width="0.5"/>
<circle cx="475.0" cy="593.3" r="1.9" fill="#c0141c" stroke="#900" stroke-width="0.5"/>
<circle cx="475.0" cy="595.5" r="1.9" fill="#c0141c" stroke="#900" stroke-width="0.5"/>
<circle cx="475.0" cy="597.7" r="1.9" fill="#c0141c" stroke="#900" stroke-width="0.5"/>
<circle cx="475.0" cy="600.0" r="1.9" fill="#c0141c" stroke="#900" stroke-width="0.5"/>
<circle cx="475.0" cy="602.2" r="1.9" fill="#c0141c" stroke="#900" stroke-width="0.5"/>
<circle cx="475.0" cy="604.4" r="1.9" fill="#c0141c" stroke="#900" stroke-width="0.5"/>
<circle cx="475.0" cy="606.6" r="1.9" fill="#c0141c" stroke="#900" stroke-width="0.5"/>
<circle cx="425.1" cy="615.8" r="1.9" fill="#c0141c" stroke="#900" stroke-width="0.5"/>
<circle cx="425.1" cy="618.2" r="1.9" fill="#c0141c" stroke="#900" stroke-width="0.5"/>
<circle cx="425.1" cy="620.5" r="1.9" fill="#c0141c" stroke="#900" stroke-width="0.5"/>
<circle cx="425.1" cy="622.8" r="1.9" fill="#c0141c" stroke="#900" stroke-width="0.5"/>
<circle cx="425.1" cy="625.1" r="1.9" fill="#c0141c" stroke="#900" stroke-width="0.5"/>
<circle cx="425.1" cy="627.4" r="1.9" fill="#c0141c" stroke="#900" stroke-width="0.5"/>
<circle cx="425.1" cy="629.8" r="1.9" fill="#c0141c" stroke="#900" stroke-width="0.5"/>
<circle cx="425.1" cy="632.1" r="1.9" fill="#c0141c" stroke="#900" stroke-width="0.5"/>
<circle cx="425.1" cy="634.4" r="1.9" fill="#c0141c" stroke="#900" stroke-width="0.5"/>
<circle cx="425.1" cy="636.7" r="1.9" fill="#c0141c" stroke="#900" stroke-width="0.5"/>
<circle cx="436.7" cy="624.0" r="1.9" fill="#c0141c" stroke="#900" stroke-width="0.5"/>
<circle cx="436.7" cy="626.3" r="1.9" fill="#c0141c" stroke="#900" stroke-width="0.5"/>
<circle cx="436.7" cy="628.6" r="1.9" fill="#c0141c" stroke="#900" stroke-width="0.5"/>
<circle cx="436.7" cy="630.9" r="1.9" fill="#c0141c" stroke="#900" stroke-width="0.5"/>
<circle cx="436.7" cy="633.2" r="1.9" fill="#c0141c" stroke="#900" stroke-width="0.5"/>
<circle cx="436.7" cy="635.6" r="1.9" fill="#c0141c" stroke="#900" stroke-width="0.5"/>
<circle cx="436.7" cy="637.9" r="1.9" fill="#c0141c" stroke="#900" stroke-width="0.5"/>
<circle cx="436.7" cy="640.2" r="1.9" fill="#c0141c" stroke="#900" stroke-width="0.5"/>
<circle cx="436.7" cy="642.5" r="1.9" fill="#c0141c" stroke="#900" stroke-width="0.5"/>
<circle cx="436.7" cy="644.8" r="1.9" fill="#c0141c" stroke="#900" stroke-width="0.5"/>
<circle cx="534.2" cy="610.0" r="1.9" fill="#c0141c" stroke="#900" stroke-width="0.5"/>
<circle cx="534.2" cy="612.4" r="1.9" fill="#c0141c" stroke="#900" stroke-width="0.5"/>
<circle cx="534.2" cy="614.7" r="1.9" fill="#c0141c" stroke="#900" stroke-width="0.5"/>
<circle cx="534.2" cy="617.0" r="1.9" fill="#c0141c" stroke="#900" stroke-width="0.5"/>
<circle cx="534.2" cy="619.3" r="1.9" fill="#c0141c" stroke="#900" stroke-width="0.5"/>
<circle cx="534.2" cy="621.6" r="1.9" fill="#c0141c" stroke="#900" stroke-width="0.5"/>
<circle cx="534.2" cy="624.0" r="1.9" fill="#c0141c" stroke="#900" stroke-width="0.5"/>
<circle cx="534.2" cy="626.3" r="1.9" fill="#c0141c" stroke="#900" stroke-width="0.5"/>
<circle cx="534.2" cy="628.6" r="1.9" fill="#c0141c" stroke="#900" stroke-width="0.5"/>
<circle cx="534.2" cy="630.9" r="1.9" fill="#c0141c" stroke="#900" stroke-width="0.5"/>
<circle cx="524.9" cy="620.5" r="1.9" fill="#c0141c" stroke="#900" stroke-width="0.5"/>
<circle cx="524.9" cy="622.8" r="1.9" fill="#c0141c" stroke="#900" stroke-width="0.5"/>
<circle cx="524.9" cy="625.1" r="1.9" fill="#c0141c" stroke="#900" stroke-width="0.5"/>
<circle cx="524.9" cy="627.4" r="1.9" fill="#c0141c" stroke="#900" stroke-width="0.5"/>
<circle cx="524.9" cy="629.8" r="1.9" fill="#c0141c" stroke="#900" stroke-width="0.5"/>
<circle cx="524.9" cy="632.1" r="1.9" fill="#c0141c" stroke="#900" stroke-width="0.5"/>
<circle cx="524.9" cy="634.4" r="1.9" fill="#c0141c" stroke="#900" stroke-width="0.5"/>
<circle cx="524.9" cy="636.7" r="1.9" fill="#c0141c" stroke="#900" stroke-width="0.5"/>
<circle cx="524.9" cy="639.0" r="1.9" fill="#c0141c" stroke="#900" stroke-width="0.5"/>
<circle cx="457.6" cy="639.0" r="1.9" fill="#c0141c" stroke="#900" stroke-width="0.5"/>
<circle cx="457.6" cy="641.2" r="1.9" fill="#c0141c" stroke="#900" stroke-width="0.5"/>
<circle cx="457.6" cy="643.4" r="1.9" fill="#c0141c" stroke="#900" stroke-width="0.5"/>
<circle cx="457.6" cy="645.6" r="1.9" fill="#c0141c" stroke="#900" stroke-width="0.5"/>
<circle cx="457.6" cy="647.8" r="1.9" fill="#c0141c" stroke="#900" stroke-width="0.5"/>
<circle cx="457.6" cy="650.0" r="1.9" fill="#c0141c" stroke="#900" stroke-width="0.5"/>
<circle cx="457.6" cy="652.2" r="1.9" fill="#c0141c" stroke="#900" stroke-width="0.5"/>
<circle cx="457.6" cy="654.4" r="1.9" fill="#c0141c" stroke="#900" stroke-width="0.5"/>
<circle cx="457.6" cy="656.6" r="1.9" fill="#c0141c" stroke="#900" stroke-width="0.5"/>
<circle cx="457.6" cy="658.8" r="1.9" fill="#c0141c" stroke="#900" stroke-width="0.5"/>
<circle cx="486.6" cy="657.6" r="1.9" fill="#c0141c" stroke="#900" stroke-width="0.5"/>
<circle cx="486.6" cy="659.9" r="1.9" fill="#c0141c" stroke="#900" stroke-width="0.5"/>
<circle cx="486.6" cy="662.3" r="1.9" fill="#c0141c" stroke="#900" stroke-width="0.5"/>
<circle cx="486.6" cy="664.6" r="1.9" fill="#c0141c" stroke="#900" stroke-width="0.5"/>
<circle cx="486.6" cy="666.9" r="1.9" fill="#c0141c" stroke="#900" stroke-width="0.5"/>
<circle cx="486.6" cy="669.2" r="1.9" fill="#c0141c" stroke="#900" stroke-width="0.5"/>
<circle cx="486.6" cy="671.5" r="1.9" fill="#c0141c" stroke="#900" stroke-width="0.5"/>
<circle cx="486.6" cy="673.9" r="1.9" fill="#c0141c" stroke="#900" stroke-width="0.5"/>
<circle cx="486.6" cy="676.2" r="1.9" fill="#c0141c" stroke="#900" stroke-width="0.5"/>
<circle cx="486.6" cy="678.5" r="1.9" fill="#c0141c" stroke="#900" stroke-width="0.5"/>
<circle cx="507.5" cy="635.6" r="1.9" fill="#c0141c" stroke="#900" stroke-width="0.5"/>
<circle cx="507.5" cy="637.9" r="1.9" fill="#c0141c" stroke="#900" stroke-width="0.5"/>
<circle cx="507.5" cy="640.2" r="1.9" fill="#c0141c" stroke="#900" stroke-width="0.5"/>
<circle cx="507.5" cy="642.5" r="1.9" fill="#c0141c" stroke="#900" stroke-width="0.5"/>
<circle cx="507.5" cy="644.8" r="1.9" fill="#c0141c" stroke="#900" stroke-width="0.5"/>
<circle cx="507.5" cy="647.2" r="1.9" fill="#c0141c" stroke="#900" stroke-width="0.5"/>
<circle cx="507.5" cy="649.5" r="1.9" fill="#c0141c" stroke="#900" stroke-width="0.5"/>
<circle cx="507.5" cy="651.8" r="1.9" fill="#c0141c" stroke="#900" stroke-width="0.5"/>
<circle cx="507.5" cy="654.1" r="1.9" fill="#c0141c" stroke="#900" stroke-width="0.5"/>
<circle cx="507.5" cy="656.5" r="1.9" fill="#c0141c" stroke="#900" stroke-width="0.5"/>
<circle cx="573.6" cy="653.0" r="1.9" fill="#c0141c" stroke="#900" stroke-width="0.5"/>
<circle cx="573.6" cy="655.3" r="1.9" fill="#c0141c" stroke="#900" stroke-width="0.5"/>
<circle cx="573.6" cy="657.6" r="1.9" fill="#c0141c" stroke="#900" stroke-width="0.5"/>
<circle cx="573.6" cy="659.9" r="1.9" fill="#c0141c" stroke="#900" stroke-width="0.5"/>
<circle cx="573.6" cy="662.3" r="1.9" fill="#c0141c" stroke="#900" stroke-width="0.5"/>
<circle cx="573.6" cy="664.6" r="1.9" fill="#c0141c" stroke="#900" stroke-width="0.5"/>
<circle cx="573.6" cy="666.9" r="1.9" fill="#c0141c" stroke="#900" stroke-width="0.5"/>
<circle cx="573.6" cy="669.2" r="1.9" fill="#c0141c" stroke="#900" stroke-width="0.5"/>
<circle cx="573.6" cy="671.5" r="1.9" fill="#c0141c" stroke="#900" stroke-width="0.5"/>
<circle cx="398.4" cy="662.3" r="1.9" fill="#c0141c" stroke="#900" stroke-width="0.5"/>
<circle cx="398.4" cy="664.6" r="1.9" fill="#c0141c" stroke="#900" stroke-width="0.5"/>
<circle cx="398.4" cy="666.9" r="1.9" fill="#c0141c" stroke="#900" stroke-width="0.5"/>
<circle cx="398.4" cy="669.2" r="1.9" fill="#c0141c" stroke="#900" stroke-width="0.5"/>
<circle cx="398.4" cy="671.5" r="1.9" fill="#c0141c" stroke="#900" stroke-width="0.5"/>
<circle cx="398.4" cy="673.9" r="1.9" fill="#c0141c" stroke="#900" stroke-width="0.5"/>
<circle cx="398.4" cy="676.2" r="1.9" fill="#c0141c" stroke="#900" stroke-width="0.5"/>
<circle cx="398.4" cy="678.5" r="1.9" fill="#c0141c" stroke="#900" stroke-width="0.5"/>
<circle cx="398.4" cy="680.8" r="1.9" fill="#c0141c" stroke="#900" stroke-width="0.5"/>
<circle cx="398.4" cy="683.1" r="1.9" fill="#c0141c" stroke="#900" stroke-width="0.5"/>
<circle cx="464.6" cy="678.5" r="1.9" fill="#c0141c" stroke="#900" stroke-width="0.5"/>
<circle cx="464.6" cy="680.8" r="1.9" fill="#c0141c" stroke="#900" stroke-width="0.5"/>
<circle cx="464.6" cy="683.1" r="1.9" fill="#c0141c" stroke="#900" stroke-width="0.5"/>
<circle cx="464.6" cy="685.5" r="1.9" fill="#c0141c" stroke="#900" stroke-width="0.5"/>
<circle cx="464.6" cy="687.8" r="1.9" fill="#c0141c" stroke="#900" stroke-width="0.5"/>
<circle cx="464.6" cy="690.1" r="1.9" fill="#c0141c" stroke="#900" stroke-width="0.5"/>
<circle cx="464.6" cy="692.4" r="1.9" fill="#c0141c" stroke="#900" stroke-width="0.5"/>
<circle cx="464.6" cy="694.7" r="1.9" fill="#c0141c" stroke="#900" stroke-width="0.5"/>
<circle cx="464.6" cy="697.1" r="1.9" fill="#c0141c" stroke="#900" stroke-width="0.5"/>
<circle cx="464.6" cy="699.4" r="1.9" fill="#c0141c" stroke="#900" stroke-width="0.5"/>
<circle cx="513.3" cy="676.2" r="1.9" fill="#c0141c" stroke="#900" stroke-width="0.5"/>
<circle cx="513.3" cy="678.4" r="1.9" fill="#c0141c" stroke="#900" stroke-width="0.5"/>
<circle cx="513.3" cy="680.6" r="1.9" fill="#c0141c" stroke="#900" stroke-width="0.5"/>
<circle cx="513.3" cy="682.7" r="1.9" fill="#c0141c" stroke="#900" stroke-width="0.5"/>
<circle cx="513.3" cy="684.9" r="1.9" fill="#c0141c" stroke="#900" stroke-width="0.5"/>
<circle cx="513.3" cy="687.1" r="1.9" fill="#c0141c" stroke="#900" stroke-width="0.5"/>
<circle cx="513.3" cy="689.3" r="1.9" fill="#c0141c" stroke="#900" stroke-width="0.5"/>
<circle cx="513.3" cy="691.5" r="1.9" fill="#c0141c" stroke="#900" stroke-width="0.5"/>
<circle cx="513.3" cy="693.7" r="1.9" fill="#c0141c" stroke="#900" stroke-width="0.5"/>
<circle cx="513.3" cy="695.9" r="1.9" fill="#c0141c" stroke="#900" stroke-width="0.5"/>
<circle cx="535.3" cy="691.3" r="1.9" fill="#c0141c" stroke="#900" stroke-width="0.5"/>
<circle cx="535.3" cy="693.4" r="1.9" fill="#c0141c" stroke="#900" stroke-width="0.5"/>
<circle cx="535.3" cy="695.6" r="1.9" fill="#c0141c" stroke="#900" stroke-width="0.5"/>
<circle cx="535.3" cy="697.8" r="1.9" fill="#c0141c" stroke="#900" stroke-width="0.5"/>
<circle cx="535.3" cy="700.0" r="1.9" fill="#c0141c" stroke="#900" stroke-width="0.5"/>
<circle cx="535.3" cy="702.2" r="1.9" fill="#c0141c" stroke="#900" stroke-width="0.5"/>
<circle cx="535.3" cy="704.4" r="1.9" fill="#c0141c" stroke="#900" stroke-width="0.5"/>
<circle cx="535.3" cy="706.6" r="1.9" fill="#c0141c" stroke="#900" stroke-width="0.5"/>
<circle cx="535.3" cy="708.8" r="1.9" fill="#c0141c" stroke="#900" stroke-width="0.5"/>
<circle cx="535.3" cy="711.0" r="1.9" fill="#c0141c" stroke="#900" stroke-width="0.5"/>
<circle cx="546.9" cy="699.4" r="1.9" fill="#c0141c" stroke="#900" stroke-width="0.5"/>
<circle cx="546.9" cy="701.6" r="1.9" fill="#c0141c" stroke="#900" stroke-width="0.5"/>
<circle cx="546.9" cy="703.8" r="1.9" fill="#c0141c" stroke="#900" stroke-width="0.5"/>
<circle cx="546.9" cy="705.9" r="1.9" fill="#c0141c" stroke="#900" stroke-width="0.5"/>
<circle cx="546.9" cy="708.1" r="1.9" fill="#c0141c" stroke="#900" stroke-width="0.5"/>
<circle cx="546.9" cy="710.3" r="1.9" fill="#c0141c" stroke="#900" stroke-width="0.5"/>
<circle cx="546.9" cy="712.5" r="1.9" fill="#c0141c" stroke="#900" stroke-width="0.5"/>
<circle cx="546.9" cy="714.7" r="1.9" fill="#c0141c" stroke="#900" stroke-width="0.5"/>
<circle cx="546.9" cy="716.9" r="1.9" fill="#c0141c" stroke="#900" stroke-width="0.5"/>
<circle cx="546.9" cy="719.1" r="1.9" fill="#c0141c" stroke="#900" stroke-width="0.5"/>
<circle cx="448.3" cy="695.9" r="1.9" fill="#c0141c" stroke="#900" stroke-width="0.5"/>
<circle cx="448.3" cy="698.1" r="1.9" fill="#c0141c" stroke="#900" stroke-width="0.5"/>
<circle cx="448.3" cy="700.3" r="1.9" fill="#c0141c" stroke="#900" stroke-width="0.5"/>
<circle cx="448.3" cy="702.5" r="1.9" fill="#c0141c" stroke="#900" stroke-width="0.5"/>
<circle cx="448.3" cy="704.7" r="1.9" fill="#c0141c" stroke="#900" stroke-width="0.5"/>
<circle cx="448.3" cy="706.8" r="1.9" fill="#c0141c" stroke="#900" stroke-width="0.5"/>
<circle cx="448.3" cy="709.0" r="1.9" fill="#c0141c" stroke="#900" stroke-width="0.5"/>
<circle cx="448.3" cy="711.2" r="1.9" fill="#c0141c" stroke="#900" stroke-width="0.5"/>
<circle cx="448.3" cy="713.4" r="1.9" fill="#c0141c" stroke="#900" stroke-width="0.5"/>
<circle cx="448.3" cy="715.6" r="1.9" fill="#c0141c" stroke="#900" stroke-width="0.5"/>
<circle cx="437.9" cy="704.0" r="1.9" fill="#c0141c" stroke="#900" stroke-width="0.5"/>
<circle cx="437.9" cy="706.3" r="1.9" fill="#c0141c" stroke="#900" stroke-width="0.5"/>
<circle cx="437.9" cy="708.7" r="1.9" fill="#c0141c" stroke="#900" stroke-width="0.5"/>
<circle cx="437.9" cy="711.0" r="1.9" fill="#c0141c" stroke="#900" stroke-width="0.5"/>
<circle cx="437.9" cy="713.3" r="1.9" fill="#c0141c" stroke="#900" stroke-width="0.5"/>
<circle cx="437.9" cy="715.6" r="1.9" fill="#c0141c" stroke="#900" stroke-width="0.5"/>
<circle cx="437.9" cy="717.9" r="1.9" fill="#c0141c" stroke="#900" stroke-width="0.5"/>
<circle cx="437.9" cy="720.3" r="1.9" fill="#c0141c" stroke="#900" stroke-width="0.5"/>
<circle cx="437.9" cy="722.6" r="1.9" fill="#c0141c" stroke="#900" stroke-width="0.5"/>
<circle cx="437.9" cy="724.9" r="1.9" fill="#c0141c" stroke="#900" stroke-width="0.5"/>
<circle cx="497.1" cy="729.5" r="1.9" fill="#c0141c" stroke="#900" stroke-width="0.5"/>
<circle cx="497.1" cy="731.8" r="1.9" fill="#c0141c" stroke="#900" stroke-width="0.5"/>
<circle cx="497.1" cy="734.0" r="1.9" fill="#c0141c" stroke="#900" stroke-width="0.5"/>
<circle cx="497.1" cy="736.2" r="1.9" fill="#c0141c" stroke="#900" stroke-width="0.5"/>
<circle cx="497.1" cy="738.4" r="1.9" fill="#c0141c" stroke="#900" stroke-width="0.5"/>
<circle cx="497.1" cy="740.7" r="1.9" fill="#c0141c" stroke="#900" stroke-width="0.5"/>
<circle cx="497.1" cy="742.9" r="1.9" fill="#c0141c" stroke="#900" stroke-width="0.5"/>
<circle cx="497.1" cy="745.1" r="1.9" fill="#c0141c" stroke="#900" stroke-width="0.5"/>
<circle cx="497.1" cy="747.3" r="1.9" fill="#c0141c" stroke="#900" stroke-width="0.5"/>
<circle cx="497.1" cy="749.5" r="1.9" fill="#c0141c" stroke="#900" stroke-width="0.5"/>
<circle cx="497.1" cy="751.8" r="1.9" fill="#c0141c" stroke="#900" stroke-width="0.5"/>
<circle cx="497.1" cy="754.0" r="1.9" fill="#c0141c" stroke="#900" stroke-width="0.5"/>
<circle cx="497.1" cy="756.2" r="1.9" fill="#c0141c" stroke="#900" stroke-width="0.5"/>
<g transform="translate(82.1,576.8) rotate(-40.5)"><rect x="-41" y="-23" width="82" height="46" fill="none" stroke="#000" stroke-width="3.1"/><text x="0" y="8" font-size="23" text-anchor="middle"><tspan font-style="italic">p</tspan> = 4</text></g>
<g transform="translate(401,573.5) rotate(-38)"><rect x="-41" y="-21" width="82.5" height="42" fill="none" stroke="#000" stroke-width="3.1"/><text x="0" y="8" font-size="23" text-anchor="middle"><tspan font-style="italic">p</tspan> = 6</text></g>
<text x="27.9" y="646.4" font-size="22.00" fill="#000" stroke="#000" stroke-width="0.45" textLength="11.5" lengthAdjust="spacingAndGlyphs" stroke="#000" stroke-width="0.35">b</text>
<text x="41.2" y="652.6" font-size="16.50" fill="#333" style="font-family:'Liberation Serif'">3</text>
<text x="28.4" y="697.8" font-size="22.00" fill="#000" stroke="#000" stroke-width="0.45" textLength="10.5" lengthAdjust="spacingAndGlyphs" stroke="#000" stroke-width="0.35">a</text>
<text x="40.7" y="704.0" font-size="16.50" fill="#333" style="font-family:'Liberation Serif'">3</text>
<text x="42.9" y="722.0" font-size="22.00" fill="#000" stroke="#000" stroke-width="0.45" textLength="10.5" lengthAdjust="spacingAndGlyphs" stroke="#000" stroke-width="0.35">a</text>
<text x="55.2" y="728.2" font-size="16.50" fill="#333" style="font-family:'Liberation Serif'">1</text>
<text x="290.0" y="701.3" font-size="22.00" fill="#000" stroke="#000" stroke-width="0.45" textLength="11.5" lengthAdjust="spacingAndGlyphs" stroke="#000" stroke-width="0.35">b</text>
<text x="303.3" y="707.5" font-size="16.50" fill="#333" style="font-family:'Liberation Serif'">2</text>
<text x="159.0" y="801.0" font-size="22.00" fill="#000" stroke="#000" stroke-width="0.45" textLength="11.5" lengthAdjust="spacingAndGlyphs" stroke="#000" stroke-width="0.35">b</text>
<text x="172.3" y="807.2" font-size="16.50" fill="#333" style="font-family:'Liberation Serif'">1</text>
<text x="188.0" y="801.0" font-size="22.00" fill="#000" stroke="#000" stroke-width="0.45" textLength="10.5" lengthAdjust="spacingAndGlyphs" stroke="#000" stroke-width="0.35">a</text>
<text x="200.3" y="807.2" font-size="16.50" fill="#333" style="font-family:'Liberation Serif'">2</text>
<text x="345.0" y="644.8" font-size="22.00" fill="#000" stroke="#000" stroke-width="0.45" textLength="11.5" lengthAdjust="spacingAndGlyphs" stroke="#000" stroke-width="0.35">b</text>
<text x="358.3" y="651.0" font-size="16.50" fill="#333" style="font-family:'Liberation Serif'">3</text>
<text x="346.2" y="695.9" font-size="22.00" fill="#000" stroke="#000" stroke-width="0.45" textLength="10.5" lengthAdjust="spacingAndGlyphs" stroke="#000" stroke-width="0.35">a</text>
<text x="358.5" y="702.1" font-size="16.50" fill="#333" style="font-family:'Liberation Serif'">3</text>
<text x="360.0" y="719.0" font-size="22.00" fill="#000" stroke="#000" stroke-width="0.45" textLength="10.5" lengthAdjust="spacingAndGlyphs" stroke="#000" stroke-width="0.35">a</text>
<text x="372.3" y="725.2" font-size="16.50" fill="#333" style="font-family:'Liberation Serif'">1</text>
<text x="589.9" y="715.6" font-size="22.00" fill="#000" stroke="#000" stroke-width="0.45" textLength="11.5" lengthAdjust="spacingAndGlyphs" stroke="#000" stroke-width="0.35">b</text>
<text x="603.2" y="721.8" font-size="16.50" fill="#333" style="font-family:'Liberation Serif'">2</text>
<text x="476.0" y="800.3" font-size="22.00" fill="#000" stroke="#000" stroke-width="0.45" textLength="11.5" lengthAdjust="spacingAndGlyphs" stroke="#000" stroke-width="0.35">b</text>
<text x="489.3" y="806.5" font-size="16.50" fill="#333" style="font-family:'Liberation Serif'">1</text>
<text x="506.3" y="800.3" font-size="22.00" fill="#000" stroke="#000" stroke-width="0.45" textLength="10.5" lengthAdjust="spacingAndGlyphs" stroke="#000" stroke-width="0.35">a</text>
<text x="518.6" y="806.5" font-size="16.50" fill="#333" style="font-family:'Liberation Serif'">2</text>
<text x="286.3" y="750.5" font-size="23.91" fill="#000" stroke="#000" stroke-width="0.45" textLength="68.4" lengthAdjust="spacingAndGlyphs">INPUT</text>
<path d="M281.3,761.5 V838 Q281.3,840.4 284,840.4 H346.8" fill="none" stroke="#333" stroke-width="4" stroke-linecap="round"/>
<line x1="298" y1="771.8" x2="322" y2="771.8" stroke="#333" stroke-width="4" stroke-linecap="round"/>
<polygon points="320.5,763.0 331.7,771.8 320.5,780.5999999999999" fill="#333"/>
<rect x="343.2" y="769.8" width="4" height="4" fill="#333"/><rect x="352.7" y="769.8" width="4" height="4" fill="#333"/>
<line x1="298" y1="794.5" x2="322" y2="794.5" stroke="#333" stroke-width="4" stroke-linecap="round"/>
<polygon points="320.5,785.7 331.7,794.5 320.5,803.3" fill="#333"/>
<rect x="343.2" y="792.5" width="4" height="4" fill="#333"/><rect x="352.7" y="792.5" width="4" height="4" fill="#333"/>
<line x1="298" y1="817.5" x2="322" y2="817.5" stroke="#333" stroke-width="4" stroke-linecap="round"/>
<polygon points="320.5,808.7 331.7,817.5 320.5,826.3" fill="#333"/>
<rect x="343.2" y="815.5" width="4" height="4" fill="#333"/><rect x="352.7" y="815.5" width="4" height="4" fill="#333"/>
<defs>
<linearGradient id="med" x1="0" y1="0" x2="0" y2="1">
 <stop offset="0" stop-color="#78cdb8"/><stop offset="0.35" stop-color="#62c4c4"/>
 <stop offset="0.55" stop-color="#44b4dc"/><stop offset="0.72" stop-color="#2f7fd0"/>
 <stop offset="0.85" stop-color="#2c4fb0"/><stop offset="1" stop-color="#3a62c0"/></linearGradient>
<linearGradient id="medR" x1="0" y1="0" x2="1" y2="0">
 <stop offset="0.55" stop-color="#2c50b8" stop-opacity="0"/><stop offset="0.85" stop-color="#2c50b8" stop-opacity="0.75"/><stop offset="1" stop-color="#2c48b0" stop-opacity="0.9"/></linearGradient>
<linearGradient id="ocean" x1="0" y1="0" x2="1" y2="1">
 <stop offset="0" stop-color="#3c86e0"/><stop offset="0.5" stop-color="#2e6fd6"/><stop offset="1" stop-color="#3a8ae0"/></linearGradient>
<linearGradient id="haw" x1="0" y1="0" x2="0.6" y2="1">
 <stop offset="0" stop-color="#3a70c8"/><stop offset="0.5" stop-color="#3468c2"/><stop offset="1" stop-color="#2c56b4"/></linearGradient>
<linearGradient id="cbar" x1="0" y1="0" x2="1" y2="0">
 <stop offset="0" stop-color="#ffffff"/><stop offset="0.15" stop-color="#a8d4f0"/><stop offset="0.3" stop-color="#3a7cc8"/>
 <stop offset="0.45" stop-color="#2aa050"/><stop offset="0.6" stop-color="#f0e040"/><stop offset="0.75" stop-color="#f07020"/>
 <stop offset="0.88" stop-color="#d01818"/><stop offset="1" stop-color="#a00010"/></linearGradient>
<radialGradient id="heat">
 <stop offset="0" stop-color="#a80c10"/><stop offset="0.3" stop-color="#c01818"/><stop offset="0.45" stop-color="#e85020"/>
 <stop offset="0.6" stop-color="#f0d040"/><stop offset="0.75" stop-color="#50b850"/><stop offset="1" stop-color="#50b850" stop-opacity="0"/></radialGradient>
<radialGradient id="heat2">
 <stop offset="0" stop-color="#f0d040"/><stop offset="0.45" stop-color="#a0d040"/><stop offset="0.7" stop-color="#40b060"/><stop offset="1" stop-color="#40a060" stop-opacity="0"/></radialGradient>
<radialGradient id="green1">
 <stop offset="0" stop-color="#30a050"/><stop offset="0.6" stop-color="#40a868" stop-opacity="0.8"/><stop offset="1" stop-color="#4090c0" stop-opacity="0"/></radialGradient>
<linearGradient id="simbg" x1="0" y1="0" x2="1" y2="0.3">
 <stop offset="0" stop-color="#f2f9fe"/><stop offset="0.2" stop-color="#d4ebfa"/><stop offset="0.45" stop-color="#9ecdf0"/><stop offset="1" stop-color="#b4daf5"/></linearGradient>
</defs>
<text x="943.9" y="120.8" font-size="24.49" fill="#000" stroke="#000" stroke-width="0.45" textLength="278.6" lengthAdjust="spacingAndGlyphs">Topo-bathymetry data</text>
<text x="1020.1" y="157.5" font-size="24.93" fill="#000" stroke="#000" stroke-width="0.45" textLength="203.2" lengthAdjust="spacingAndGlyphs">Domain size and</text>
<text x="1098.8" y="193.2" font-size="24.64" fill="#000" stroke="#000" stroke-width="0.45" textLength="124.5" lengthAdjust="spacingAndGlyphs">resolution</text>
<rect x="749.2" y="170.6" width="334.29999999999995" height="185.00000000000003" fill="url(#ocean)"/>
<g transform="translate(745,165) scale(0.18235)">
<clipPath id="cw"><rect x="23.03280000000025" y="30.710399999999968" width="1833.3011999999997" height="1014.5400000000002"/></clipPath><g clip-path="url(#cw)">
<path d="M0,300 L900,300 1000,650 1300,800 1600,900 1900,900 1900,1100 0,1100 Z" fill="#3f8ae6" opacity="0.5"/>
<path d="M880,620 Q1050,700 1200,860 L900,880 Q850,750 880,620 Z" fill="#1f55cc" opacity="0.5"/>
<path d="M880,40 L1900,40 1900,140 1500,120 1200,90 1000,100 880,110 Z" fill="#3c94ea"/>
<path d="M900,150 L1000,190 1300,230 1400,300 1500,260 1600,230 1900,150 1900,300 1600,330 1500,330 1300,300 1100,310 900,300 Z" fill="#6cc86a"/>
<path d="M900,140 L1000,150 1150,150 1300,170 1450,230 1430,310 1370,300 1300,235 1150,205 1000,195 900,180 Z" fill="#eef6fb"/>
<path d="M380,310 L600,300 800,290 900,250 1100,240 1250,270 1300,300 1220,340 1150,420 1080,460 1000,520 950,600 900,560 850,520 800,480 720,500 650,470 600,420 520,410 440,420 380,380 Z" fill="#d9a878"/>
<path d="M380,310 L600,300 820,300 780,360 700,380 620,400 520,380 420,400 380,370 Z" fill="#78cc6a"/>
<path d="M900,250 L1100,240 1250,270 1200,300 1000,300 900,320 Z" fill="#c89868"/>
<path d="M820,390 L900,370 1000,400 990,460 900,470 830,440 Z" fill="#b07a48"/>
<path d="M930,480 L1000,470 1060,520 1040,600 980,610 940,560 Z" fill="#78c878"/>
<path d="M400,330 L480,310 520,340 480,360 420,360 Z" fill="#f0f6f8"/>
<path d="M660,360 L700,350 720,400 690,410 Z" fill="#f0f6f8"/>
<path d="M780,470 L880,470 860,540 830,560 800,520 Z" fill="#d4a070"/>
<path d="M350,450 L420,420 560,410 640,430 700,470 720,520 680,560 660,620 620,680 560,740 520,700 500,620 480,560 400,540 355,510 Z" fill="#dcab7a"/>
<path d="M420,560 L520,560 560,620 520,640 480,600 Z" fill="#76c466"/>
<path d="M650,640 L690,650 680,700 655,690 Z" fill="#d4a070"/>
<path d="M1000,650 L1060,610 1150,620 1210,650 1200,720 1160,770 1080,740 1010,720 Z" fill="#d9aa78"/>
<path d="M1120,630 L1200,650 1195,720 1150,740 1110,690 Z" fill="#70c068"/>
<path d="M1280,750 L1330,740 1380,790 1300,830 Z" fill="#e0eef4"/>
<path d="M40,520 L130,530 230,580 270,620 230,700 170,760 130,840 90,840 60,760 40,700 Z" fill="#d4a070"/>
<path d="M40,530 L130,535 220,585 180,640 100,640 50,600 Z" fill="#70c468"/>
<path d="M30,300 L200,300 220,360 150,400 80,440 30,420 Z" fill="#cfa070"/>
<path d="M30,300 L120,300 140,340 60,360 30,350 Z" fill="#78c868"/>
<path d="M30,1040 L30,930 150,900 300,930 500,905 700,915 900,910 1100,920 1280,930 1400,960 1600,950 1900,960 1900,1040 Z" fill="#e8f0f2"/>
<path d="M280,1040 L300,960 400,930 600,920 780,930 850,910 1000,915 1150,925 1270,950 1250,1040 Z" fill="#c89a40"/>
<path d="M30,1040 L30,960 120,940 250,970 280,1040 Z" fill="#80c070"/>
</g></g>
<rect x="750.7" y="172.1" width="331.29999999999995" height="182.00000000000003" fill="none" stroke="#000" stroke-width="3"/>
<rect x="1037.3" y="215" width="186.29999999999995" height="164.3" fill="url(#haw)"/>
<clipPath id="ch"><rect x="1037.3" y="215" width="186.29999999999995" height="164.3"/></clipPath><g clip-path="url(#ch)">
<g transform="translate(1030,205) scale(0.14399)">
<path d="M60,560 Q600,420 1340,380 L1340,520 Q700,560 60,760 Z" fill="#4c8ad6" opacity="0.45"/>
<ellipse cx="960" cy="620" rx="170" ry="90" transform="rotate(20 960 620)" fill="#2a2aa0" opacity="0.45"/>
<path d="M60,1000 Q300,1100 600,1220 L60,1220 Z" fill="#2438a0" opacity="0.5"/>
<ellipse cx="100" cy="345" rx="45" ry="40" transform="rotate(0 100 345)" fill="#5cc4b4" opacity="0.55"/>
<ellipse cx="215" cy="400" rx="45" ry="35" transform="rotate(0 215 400)" fill="#5cc4b4" opacity="0.55"/>
<ellipse cx="380" cy="500" rx="150" ry="90" transform="rotate(-20 380 500)" fill="#5cc4b4" opacity="0.55"/>
<ellipse cx="780" cy="620" rx="300" ry="110" transform="rotate(25 780 620)" fill="#5cc4b4" opacity="0.55"/>
<ellipse cx="1000" cy="820" rx="170" ry="140" transform="rotate(30 1000 820)" fill="#5cc4b4" opacity="0.55"/>
<circle cx="100" cy="345" r="24" fill="#d89868"/><circle cx="215" cy="400" r="22" fill="#d89868"/>
<path d="M260,545 L300,500 350,480 420,455 465,470 460,520 420,540 350,540 300,555 Z" fill="#d8946a"/>
<ellipse cx="420" cy="495" rx="30" ry="22" fill="#3a6a2a"/>
<path d="M510,510 L640,530 760,600 890,610 1050,680 980,720 800,730 750,700 660,680 600,640 520,560 Z" fill="#d8946a"/>
<path d="M870,710 L960,720 1060,790 1130,800 1060,860 990,930 930,950 900,900 880,800 Z" fill="#d8946a"/>
<ellipse cx="625" cy="570" rx="30" ry="25" fill="#2f6a28"/><ellipse cx="850" cy="670" rx="50" ry="25" transform="rotate(20 850 670)" fill="#2f6a28"/>
<ellipse cx="975" cy="830" rx="70" ry="75" transform="rotate(20 975 830)" fill="#3d7a30"/>
<ellipse cx="960" cy="830" rx="25" ry="35" fill="#8a9a80"/>
<circle cx="480" cy="940" r="14" fill="#80d0c0" opacity="0.8"/>
<circle cx="590" cy="950" r="14" fill="#80d0c0" opacity="0.8"/>
<circle cx="560" cy="1010" r="14" fill="#80d0c0" opacity="0.8"/>
<circle cx="720" cy="1010" r="14" fill="#80d0c0" opacity="0.8"/>
<circle cx="680" cy="1030" r="14" fill="#80d0c0" opacity="0.8"/>
<circle cx="760" cy="960" r="14" fill="#80d0c0" opacity="0.8"/>
<circle cx="740" cy="880" r="14" fill="#80d0c0" opacity="0.8"/>
<circle cx="670" cy="1100" r="14" fill="#80d0c0" opacity="0.8"/>
<circle cx="700" cy="1140" r="14" fill="#80d0c0" opacity="0.8"/>
<circle cx="1190" cy="910" r="14" fill="#80d0c0" opacity="0.8"/>
<circle cx="1160" cy="1120" r="14" fill="#80d0c0" opacity="0.8"/>
<circle cx="1120" cy="330" r="14" fill="#80d0c0" opacity="0.8"/>
<circle cx="1190" cy="320" r="14" fill="#80d0c0" opacity="0.8"/>
<circle cx="570" cy="320" r="14" fill="#80d0c0" opacity="0.8"/>
<circle cx="760" cy="100" r="14" fill="#80d0c0" opacity="0.8"/>
<circle cx="180" cy="150" r="14" fill="#80d0c0" opacity="0.8"/>
</g></g>
<rect x="1038.8" y="216.5" width="183.29999999999995" height="161.3" fill="none" stroke="#000" stroke-width="3"/>
<rect x="668.7" y="89.5" width="239.39999999999998" height="129.7" fill="url(#med)"/>
<rect x="668.7" y="89.5" width="239.39999999999998" height="129.7" fill="url(#medR)"/>
<g transform="translate(660,80) scale(0.15855)">
<clipPath id="cm"><rect x="55" y="60" width="1510" height="818"/></clipPath><g clip-path="url(#cm)">
<path d="M60,60 L1050,60 1100,150 1000,230 880,340 700,380 560,420 420,470 300,520 160,560 60,580 Z" fill="#7ccca6" opacity="0.75"/>
<path d="M650,60 L1000,60 1050,140 950,200 800,180 700,140 Z" fill="#a8d890" opacity="0.8"/>
<path d="M330,370 L480,360 470,440 380,450 Z" fill="#3aa0dc" opacity="0.8"/>
<path d="M1000,250 L1300,250 1350,420 1200,460 1050,430 Z" fill="#48b0e0" opacity="0.6"/>
<polygon points="480,420 540,350 600,360 640,420 630,540 580,530 520,470" fill="#e6e04a" opacity="0.9"/>
<polygon points="80,560 200,540 320,510 420,480 470,500 400,560 300,600 200,640 90,690" fill="#e6e04a" opacity="0.55"/>
<polygon points="600,280 700,240 850,280 900,330 820,350 700,330" fill="#e6e04a" opacity="0.9"/>
<polygon points="860,210 960,200 1070,250 1060,300 960,290 880,260" fill="#e6e04a" opacity="0.9"/>
<polygon points="1190,470 1290,460 1380,480 1320,520 1290,640 1240,650 1210,560" fill="#e6e04a" opacity="0.9"/>
<polygon points="1430,570 1530,560 1540,640 1460,640" fill="#e6e04a" opacity="0.9"/>
<polygon points="880,430 950,440 940,470 880,460" fill="#e6e04a" opacity="0.9"/>
<polygon points="100,280 250,250 350,300 320,350 180,380 100,360" fill="#e6e04a" opacity="0.55"/>
<polygon points="720,170 800,150 860,190 780,210" fill="#e6e04a" opacity="0.9"/>
<polygon points="1330,650 1390,660 1400,710 1340,715" fill="#e6e04a" opacity="0.9"/>
<polygon points="640,290 720,270 810,310 770,335 680,320" fill="#c86a30"/>
<polygon points="730,240 820,250 870,300 810,300" fill="#c86a30"/>
<polygon points="920,235 985,245 990,280 940,272" fill="#c86a30"/>
<polygon points="1220,475 1320,470 1360,500 1300,512 1240,505" fill="#c86a30"/>
<polygon points="1345,670 1385,680 1385,705 1350,705" fill="#c86a30"/>
<polygon points="760,160 800,165 790,185" fill="#c86a30"/>
<ellipse cx="420" cy="150" rx="13" ry="4" fill="#dfe060" opacity="0.7"/>
<ellipse cx="649" cy="264" rx="7" ry="7" fill="#dfe060" opacity="0.7"/>
<ellipse cx="110" cy="300" rx="7" ry="4" fill="#dfe060" opacity="0.7"/>
<ellipse cx="204" cy="188" rx="12" ry="9" fill="#dfe060" opacity="0.7"/>
<ellipse cx="693" cy="280" rx="16" ry="4" fill="#dfe060" opacity="0.7"/>
<ellipse cx="997" cy="223" rx="7" ry="5" fill="#dfe060" opacity="0.7"/>
<ellipse cx="265" cy="378" rx="12" ry="6" fill="#dfe060" opacity="0.7"/>
<ellipse cx="662" cy="103" rx="7" ry="5" fill="#dfe060" opacity="0.7"/>
<ellipse cx="805" cy="297" rx="9" ry="7" fill="#dfe060" opacity="0.7"/>
<ellipse cx="559" cy="229" rx="14" ry="7" fill="#dfe060" opacity="0.7"/>
<ellipse cx="334" cy="374" rx="11" ry="8" fill="#dfe060" opacity="0.7"/>
<ellipse cx="858" cy="223" rx="16" ry="5" fill="#dfe060" opacity="0.7"/>
<ellipse cx="234" cy="329" rx="6" ry="7" fill="#dfe060" opacity="0.7"/>
<ellipse cx="1016" cy="236" rx="13" ry="7" fill="#dfe060" opacity="0.7"/>
<ellipse cx="696" cy="312" rx="14" ry="9" fill="#dfe060" opacity="0.7"/>
<ellipse cx="582" cy="422" rx="7" ry="8" fill="#dfe060" opacity="0.7"/>
<ellipse cx="958" cy="221" rx="10" ry="7" fill="#dfe060" opacity="0.7"/>
<ellipse cx="94" cy="315" rx="8" ry="5" fill="#dfe060" opacity="0.7"/>
<ellipse cx="134" cy="477" rx="7" ry="5" fill="#dfe060" opacity="0.7"/>
<ellipse cx="157" cy="308" rx="11" ry="8" fill="#dfe060" opacity="0.7"/>
<ellipse cx="371" cy="290" rx="10" ry="8" fill="#dfe060" opacity="0.7"/>
<ellipse cx="1104" cy="150" rx="8" ry="5" fill="#dfe060" opacity="0.7"/>
<ellipse cx="322" cy="327" rx="12" ry="5" fill="#dfe060" opacity="0.7"/>
<ellipse cx="74" cy="292" rx="10" ry="7" fill="#dfe060" opacity="0.7"/>
<ellipse cx="627" cy="397" rx="13" ry="4" fill="#dfe060" opacity="0.7"/>
<ellipse cx="494" cy="281" rx="7" ry="7" fill="#dfe060" opacity="0.7"/>
<ellipse cx="137" cy="106" rx="8" ry="5" fill="#dfe060" opacity="0.7"/>
<ellipse cx="437" cy="98" rx="6" ry="5" fill="#dfe060" opacity="0.7"/>
<ellipse cx="180" cy="263" rx="6" ry="8" fill="#dfe060" opacity="0.7"/>
<ellipse cx="733" cy="149" rx="9" ry="6" fill="#dfe060" opacity="0.7"/>
<ellipse cx="463" cy="135" rx="14" ry="9" fill="#dfe060" opacity="0.7"/>
<ellipse cx="573" cy="326" rx="7" ry="5" fill="#dfe060" opacity="0.7"/>
<ellipse cx="440" cy="210" rx="14" ry="5" fill="#dfe060" opacity="0.7"/>
<ellipse cx="95" cy="574" rx="11" ry="5" fill="#dfe060" opacity="0.7"/>
<ellipse cx="657" cy="84" rx="11" ry="9" fill="#dfe060" opacity="0.7"/>
<ellipse cx="352" cy="264" rx="8" ry="8" fill="#dfe060" opacity="0.7"/>
<ellipse cx="426" cy="188" rx="14" ry="9" fill="#dfe060" opacity="0.7"/>
<ellipse cx="315" cy="344" rx="10" ry="4" fill="#dfe060" opacity="0.7"/>
<ellipse cx="100" cy="218" rx="9" ry="7" fill="#dfe060" opacity="0.7"/>
<ellipse cx="1101" cy="263" rx="8" ry="5" fill="#dfe060" opacity="0.7"/>
<ellipse cx="282" cy="178" rx="12" ry="9" fill="#dfe060" opacity="0.7"/>
<ellipse cx="978" cy="324" rx="13" ry="8" fill="#dfe060" opacity="0.7"/>
<ellipse cx="162" cy="420" rx="15" ry="8" fill="#dfe060" opacity="0.7"/>
<ellipse cx="880" cy="323" rx="8" ry="8" fill="#dfe060" opacity="0.7"/>
<ellipse cx="1119" cy="280" rx="10" ry="9" fill="#dfe060" opacity="0.7"/>
<ellipse cx="853" cy="160" rx="7" ry="5" fill="#dfe060" opacity="0.7"/>
<ellipse cx="228" cy="508" rx="16" ry="7" fill="#dfe060" opacity="0.7"/>
<ellipse cx="448" cy="361" rx="7" ry="4" fill="#dfe060" opacity="0.7"/>
<ellipse cx="962" cy="182" rx="9" ry="5" fill="#dfe060" opacity="0.7"/>
<ellipse cx="330" cy="381" rx="9" ry="6" fill="#dfe060" opacity="0.7"/>
<ellipse cx="212" cy="552" rx="10" ry="6" fill="#dfe060" opacity="0.7"/>
<ellipse cx="612" cy="352" rx="11" ry="4" fill="#dfe060" opacity="0.7"/>
<ellipse cx="545" cy="167" rx="6" ry="8" fill="#dfe060" opacity="0.7"/>
<ellipse cx="256" cy="321" rx="13" ry="7" fill="#dfe060" opacity="0.7"/>
<ellipse cx="422" cy="345" rx="12" ry="8" fill="#dfe060" opacity="0.7"/>
<ellipse cx="185" cy="367" rx="8" ry="5" fill="#dfe060" opacity="0.7"/>
<ellipse cx="904" cy="339" rx="12" ry="8" fill="#dfe060" opacity="0.7"/>
<ellipse cx="732" cy="338" rx="11" ry="7" fill="#dfe060" opacity="0.7"/>
<ellipse cx="559" cy="353" rx="11" ry="9" fill="#dfe060" opacity="0.7"/>
<ellipse cx="1088" cy="208" rx="12" ry="9" fill="#dfe060" opacity="0.7"/>
<ellipse cx="977" cy="143" rx="7" ry="6" fill="#dfe060" opacity="0.7"/>
<ellipse cx="148" cy="198" rx="7" ry="7" fill="#dfe060" opacity="0.7"/>
<ellipse cx="237" cy="450" rx="13" ry="5" fill="#dfe060" opacity="0.7"/>
<ellipse cx="500" cy="328" rx="16" ry="8" fill="#dfe060" opacity="0.7"/>
<ellipse cx="244" cy="299" rx="11" ry="6" fill="#dfe060" opacity="0.7"/>
<ellipse cx="281" cy="239" rx="13" ry="4" fill="#dfe060" opacity="0.7"/>
<ellipse cx="668" cy="303" rx="6" ry="6" fill="#dfe060" opacity="0.7"/>
<ellipse cx="744" cy="341" rx="7" ry="9" fill="#dfe060" opacity="0.7"/>
<ellipse cx="183" cy="211" rx="6" ry="8" fill="#dfe060" opacity="0.7"/>
<ellipse cx="362" cy="139" rx="10" ry="9" fill="#dfe060" opacity="0.7"/>
<ellipse cx="954" cy="207" rx="7" ry="9" fill="#dfe060" opacity="0.7"/>
<ellipse cx="167" cy="100" rx="13" ry="6" fill="#dfe060" opacity="0.7"/>
<ellipse cx="148" cy="567" rx="12" ry="8" fill="#dfe060" opacity="0.7"/>
<ellipse cx="160" cy="524" rx="7" ry="8" fill="#dfe060" opacity="0.7"/>
<ellipse cx="560" cy="250" rx="12" ry="9" fill="#dfe060" opacity="0.7"/>
<ellipse cx="359" cy="138" rx="11" ry="5" fill="#dfe060" opacity="0.7"/>
<ellipse cx="188" cy="156" rx="7" ry="5" fill="#dfe060" opacity="0.7"/>
<ellipse cx="407" cy="232" rx="14" ry="5" fill="#dfe060" opacity="0.7"/>
<ellipse cx="610" cy="164" rx="9" ry="4" fill="#dfe060" opacity="0.7"/>
<ellipse cx="340" cy="78" rx="13" ry="7" fill="#dfe060" opacity="0.7"/>
<ellipse cx="275" cy="322" rx="15" ry="5" fill="#dfe060" opacity="0.7"/>
<ellipse cx="954" cy="299" rx="11" ry="8" fill="#dfe060" opacity="0.7"/>
<ellipse cx="495" cy="339" rx="13" ry="9" fill="#dfe060" opacity="0.7"/>
<ellipse cx="507" cy="254" rx="7" ry="5" fill="#dfe060" opacity="0.7"/>
<ellipse cx="146" cy="463" rx="9" ry="5" fill="#dfe060" opacity="0.7"/>
<ellipse cx="161" cy="516" rx="15" ry="7" fill="#dfe060" opacity="0.7"/>
<ellipse cx="374" cy="198" rx="9" ry="6" fill="#dfe060" opacity="0.7"/>
<ellipse cx="240" cy="306" rx="9" ry="9" fill="#dfe060" opacity="0.7"/>
<ellipse cx="404" cy="259" rx="6" ry="6" fill="#dfe060" opacity="0.7"/>
<ellipse cx="583" cy="336" rx="8" ry="7" fill="#dfe060" opacity="0.7"/>
<ellipse cx="75" cy="210" rx="7" ry="6" fill="#dfe060" opacity="0.7"/>
<ellipse cx="115" cy="82" rx="9" ry="5" fill="#dfe060" opacity="0.7"/>
<ellipse cx="702" cy="350" rx="14" ry="7" fill="#dfe060" opacity="0.7"/>
<ellipse cx="491" cy="243" rx="16" ry="5" fill="#dfe060" opacity="0.7"/>
<ellipse cx="117" cy="513" rx="15" ry="7" fill="#dfe060" opacity="0.7"/>
<ellipse cx="220" cy="348" rx="11" ry="8" fill="#dfe060" opacity="0.7"/>
<ellipse cx="318" cy="87" rx="7" ry="6" fill="#dfe060" opacity="0.7"/>
<ellipse cx="183" cy="513" rx="12" ry="7" fill="#dfe060" opacity="0.7"/>
<ellipse cx="598" cy="72" rx="14" ry="8" fill="#dfe060" opacity="0.7"/>
<path d="M60,640 Q400,610 700,680 Q1000,740 1565,700 L1565,880 60,880 Z" fill="#2a46aa" opacity="0.85"/>
<path d="M60,620 L260,610 250,880 60,880 Z" fill="#3a8ad8" opacity="0.7"/>
<path d="M280,760 Q500,700 900,780 Q1100,800 1250,770" stroke="#d8ecf8" stroke-width="14" fill="none" opacity="0.55"/>
<path d="M1240,100 L1260,400 M1380,90 L1390,420" stroke="#a0c0f0" stroke-width="6" fill="none" opacity="0.5"/>
</g></g>
<rect x="670.2" y="91.0" width="236.39999999999998" height="126.69999999999999" fill="none" stroke="#000" stroke-width="3"/>
<polygon points="868.4,355 883,355 883,387 889.7,387 875.7,401.6 860.5,387 868.4,387" fill="#70ad47"/>
<polygon points="1166.6,614 1179.1,614 1179.1,639.5 1186.4,639.5 1172.3,654 1157.3,639.5 1166.6,639.5" fill="#70ad47"/>
<rect x="673.5" y="405.9" width="1046.2" height="206" fill="#fff" stroke="#000" stroke-width="3.6" transform="scale(1)" style="display:none"/>
<rect x="673.5" y="405.9" width="546.2" height="206.1" fill="#fff" stroke="#000" stroke-width="3.6"/>
<text x="685.8" y="438.6" font-family="Liberation Serif" font-size="27" font-style="italic" fill="#231f1c" stroke="#231f1c" stroke-width="0.5" textLength="520.8" lengthAdjust="spacingAndGlyphs"><tspan font-weight="normal">∂</tspan><tspan font-size="15" font-weight="normal" dy="4">t</tspan><tspan dy="-4">U</tspan><tspan font-size="15" dy="5">f</tspan><tspan font-weight="normal" dy="-5"> + ∂</tspan><tspan font-size="15" font-weight="normal" dy="4">x</tspan><tspan dy="-4">F</tspan><tspan font-size="15" dy="5">f</tspan><tspan font-weight="normal" dy="-5"> + ∂</tspan><tspan font-size="15" font-weight="normal" dy="4">y</tspan><tspan dy="-4">G</tspan><tspan font-size="15" dy="5">f</tspan><tspan font-weight="normal" dy="-5"> + </tspan><tspan>B</tspan><tspan font-size="15" dy="5">f</tspan><tspan font-weight="normal" dy="-5"> = </tspan><tspan>H</tspan><tspan font-size="15" dy="5">f</tspan><tspan font-weight="normal" dy="-5"> + </tspan><tspan>K</tspan><tspan font-size="16" font-weight="normal" dy="6">NH</tspan><tspan font-weight="normal" dy="-6"> − </tspan><tspan>S</tspan><tspan font-size="15" dy="5">f</tspan></text>
<text x="685.8" y="492.4" font-family="Liberation Serif" font-size="27" font-style="italic" fill="#231f1c" stroke="#231f1c" stroke-width="0.3" textLength="156.8" lengthAdjust="spacingAndGlyphs"><tspan font-style="normal">∇</tspan><tspan font-size="16" dy="6">NH</tspan><tspan dy="-6" font-style="normal"> · </tspan><tspan>U</tspan><tspan font-size="15" dy="5">f</tspan><tspan font-style="normal" dy="-5"> = 0.</tspan></text>
<text x="692.6" y="549.6" font-size="24.64" fill="#000" stroke="#000" stroke-width="0.45" textLength="243.4" lengthAdjust="spacingAndGlyphs">Numerical Model &amp;</text>
<text x="692.6" y="586.6" font-size="24.64" fill="#000" stroke="#000" stroke-width="0.45" textLength="182.8" lengthAdjust="spacingAndGlyphs">HPC Resources</text>
<g fill="none" stroke="#000" stroke-linecap="butt">
<path d="M1007.7,513.6 A31.8,31.8 0 1 0 964.8,511.7 L971.2,517.3 L1000,517.3" stroke-width="3"/>
<path d="M970.0,506.5 A24.5,24.5 0 1 1 1004.6,506.5" stroke-width="2.7"/>
<line x1="962.3" y1="489.2" x2="967.8" y2="489.2" stroke-width="2.6"/>
<line x1="969.6" y1="471.5" x2="973.5" y2="475.4" stroke-width="2.6"/>
<line x1="987.3" y1="464.2" x2="987.3" y2="469.7" stroke-width="2.6"/>
<line x1="1005.0" y1="471.5" x2="1001.1" y2="475.4" stroke-width="2.6"/>
<line x1="1012.3" y1="489.2" x2="1006.8" y2="489.2" stroke-width="2.6"/>
<line x1="969.6" y1="506.9" x2="973.5" y2="503.0" stroke-width="2.6"/>
<line x1="1005.0" y1="506.9" x2="1001.1" y2="503.0" stroke-width="2.6"/>
<circle cx="987.3" cy="489.2" r="3.6" stroke-width="2.6"/><line x1="990.9" y1="489.2" x2="1000.7" y2="489.2" stroke-width="2.8"/>
<line x1="981.2" y1="509.3" x2="993" y2="509.3" stroke-width="3"/>
</g>
<rect x="1028.9" y="497.7" width="58.0" height="30.30000000000001" rx="4.5" fill="#fff" stroke="#000" stroke-width="4.4"/>
<rect x="1055.6" y="510.6" width="4.6" height="4.6" fill="#000"/>
<rect x="1109.8" y="497.7" width="58.100000000000136" height="30.30000000000001" rx="4.5" fill="#fff" stroke="#000" stroke-width="4.4"/>
<rect x="1136.5" y="510.6" width="4.6" height="4.6" fill="#000"/>
<rect x="1046" y="528" width="24" height="25" fill="#fff" stroke="#000" stroke-width="4"/>
<rect x="1055.5" y="538.0" width="5" height="5" fill="#000"/>
<rect x="1046" y="553" width="24" height="27" fill="#fff" stroke="#000" stroke-width="4"/>
<rect x="1055.5" y="564.0" width="5" height="5" fill="#000"/>
<rect x="1126.8" y="528" width="24" height="25" fill="#fff" stroke="#000" stroke-width="4"/>
<rect x="1136.3" y="538.0" width="5" height="5" fill="#000"/>
<rect x="1126.8" y="553" width="24" height="27" fill="#fff" stroke="#000" stroke-width="4"/>
<rect x="1136.3" y="564.0" width="5" height="5" fill="#000"/>
<rect x="991.9" y="515.3" width="57.19999999999993" height="28.100000000000023" rx="4.5" fill="#fff" stroke="#000" stroke-width="4.4"/>
<rect x="1006.8" y="527.0" width="4.6" height="4.6" fill="#000"/>
<rect x="1018.2" y="527.0" width="4.6" height="4.6" fill="#000"/>
<rect x="1029.6" y="527.0" width="4.6" height="4.6" fill="#000"/>
<rect x="991.9" y="543.4" width="57.19999999999993" height="28.200000000000045" rx="4.5" fill="#fff" stroke="#000" stroke-width="4.4"/>
<rect x="1006.8" y="555.2" width="4.6" height="4.6" fill="#000"/>
<rect x="1018.2" y="555.2" width="4.6" height="4.6" fill="#000"/>
<rect x="1029.6" y="555.2" width="4.6" height="4.6" fill="#000"/>
<rect x="991.9" y="571.6" width="57.19999999999993" height="29.0" rx="4.5" fill="#fff" stroke="#000" stroke-width="4.4"/>
<rect x="1006.8" y="583.8" width="4.6" height="4.6" fill="#000"/>
<rect x="1018.2" y="583.8" width="4.6" height="4.6" fill="#000"/>
<rect x="1029.6" y="583.8" width="4.6" height="4.6" fill="#000"/>
<rect x="1069.3" y="515.3" width="57.200000000000045" height="28.100000000000023" rx="4.5" fill="#fff" stroke="#000" stroke-width="4.4"/>
<rect x="1084.2" y="527.0" width="4.6" height="4.6" fill="#000"/>
<rect x="1095.6" y="527.0" width="4.6" height="4.6" fill="#000"/>
<rect x="1107.0" y="527.0" width="4.6" height="4.6" fill="#000"/>
<rect x="1069.3" y="543.4" width="57.200000000000045" height="28.200000000000045" rx="4.5" fill="#fff" stroke="#000" stroke-width="4.4"/>
<rect x="1084.2" y="555.2" width="4.6" height="4.6" fill="#000"/>
<rect x="1095.6" y="555.2" width="4.6" height="4.6" fill="#000"/>
<rect x="1107.0" y="555.2" width="4.6" height="4.6" fill="#000"/>
<rect x="1069.3" y="571.6" width="57.200000000000045" height="29.0" rx="4.5" fill="#fff" stroke="#000" stroke-width="4.4"/>
<rect x="1084.2" y="583.8" width="4.6" height="4.6" fill="#000"/>
<rect x="1095.6" y="583.8" width="4.6" height="4.6" fill="#000"/>
<rect x="1107.0" y="583.8" width="4.6" height="4.6" fill="#000"/>
<rect x="1146.8" y="515.3" width="58.0" height="28.100000000000023" rx="4.5" fill="#fff" stroke="#000" stroke-width="4.4"/>
<rect x="1161.9" y="527.0" width="4.6" height="4.6" fill="#000"/>
<rect x="1173.5" y="527.0" width="4.6" height="4.6" fill="#000"/>
<rect x="1185.1" y="527.0" width="4.6" height="4.6" fill="#000"/>
<rect x="1146.8" y="543.4" width="58.0" height="28.200000000000045" rx="4.5" fill="#fff" stroke="#000" stroke-width="4.4"/>
<rect x="1161.9" y="555.2" width="4.6" height="4.6" fill="#000"/>
<rect x="1173.5" y="555.2" width="4.6" height="4.6" fill="#000"/>
<rect x="1185.1" y="555.2" width="4.6" height="4.6" fill="#000"/>
<rect x="1146.8" y="571.6" width="58.0" height="29.0" rx="4.5" fill="#fff" stroke="#000" stroke-width="4.4"/>
<rect x="1161.9" y="583.8" width="4.6" height="4.6" fill="#000"/>
<rect x="1173.5" y="583.8" width="4.6" height="4.6" fill="#000"/>
<rect x="1185.1" y="583.8" width="4.6" height="4.6" fill="#000"/>
<clipPath id="o1"><rect x="672" y="632" width="171.10000000000002" height="119.60000000000002"/></clipPath>
<g clip-path="url(#o1)"><rect x="672" y="632" width="171.10000000000002" height="119.60000000000002" fill="url(#simbg)"/>
<ellipse cx="774.66" cy="697.78" rx="59.885000000000005" ry="21.528000000000002" transform="rotate(25 774.66 697.78)" fill="#4e90d4" opacity="0.55"/>
<ellipse cx="800.325" cy="667.88" rx="42.775000000000006" ry="11.960000000000003" transform="rotate(20 800.325 667.88)" fill="#6aa6dc" opacity="0.5"/>
<ellipse cx="748.995" cy="733.66" rx="51.330000000000005" ry="11.960000000000003" fill="#70aadc" opacity="0.45"/>
<ellipse cx="738" cy="675" rx="9" ry="22" fill="url(#green1)"/>
<ellipse cx="741" cy="652" rx="9" ry="8" fill="url(#heat)"/>
<polygon points="703.2,642.0 708.6,651.4 717.1,662.6 721.5,675.8 723.5,685.1 721.5,698.3 719.3,709.5 710.8,718.9 702.2,724.6 697.9,732.1 706.4,743.3 697.9,741.5 693.7,732.1 683.0,724.6 678.8,713.3 676.6,700.2 675.6,690.8 678.8,681.4 685.1,673.9 693.7,660.7 700.0,649.4" fill="#a0a0a0"/>
<ellipse cx="709.8" cy="662.6" rx="5.3" ry="4.1" fill="#fff"/>
</g>
<rect x="673.6" y="633.6" width="167.90000000000003" height="116.40000000000002" fill="none" stroke="#000" stroke-width="3.2"/>
<clipPath id="o2"><rect x="774.1" y="653.5" width="169.39999999999998" height="147.79999999999995"/></clipPath>
<g clip-path="url(#o2)"><rect x="774.1" y="653.5" width="169.39999999999998" height="147.79999999999995" fill="url(#simbg)"/>
<ellipse cx="875.74" cy="734.79" rx="59.289999999999985" ry="26.603999999999992" transform="rotate(25 875.74 734.79)" fill="#4e90d4" opacity="0.55"/>
<ellipse cx="901.15" cy="697.84" rx="42.349999999999994" ry="14.779999999999996" transform="rotate(20 901.15 697.84)" fill="#6aa6dc" opacity="0.5"/>
<ellipse cx="850.33" cy="779.13" rx="50.81999999999999" ry="14.779999999999996" fill="#70aadc" opacity="0.45"/>
<ellipse cx="832" cy="740" rx="32" ry="24" fill="url(#heat2)"/>
<ellipse cx="824" cy="736" rx="9" ry="11" fill="url(#heat)"/>
<polygon points="800.4,659.6 804.7,668.3 809.9,677.8 815.5,683.6 821.1,690.1 822.0,697.4 819.4,703.2 822.0,711.9 818.5,722.1 815.5,732.3 802.5,729.4 791.7,732.3 783.9,725.0 778.7,716.3 780.4,703.2 783.0,692.3 788.2,681.4 794.3,669.8" fill="#a0a0a0"/>
<ellipse cx="805.5" cy="677.8" rx="5.6" ry="3.6" fill="#fff"/>
</g>
<rect x="775.7" y="655.1" width="166.2" height="144.59999999999997" fill="none" stroke="#000" stroke-width="3.2"/>
<clipPath id="o3"><rect x="898.3" y="704" width="167.4000000000001" height="133.10000000000002"/></clipPath>
<g clip-path="url(#o3)"><rect x="898.3" y="704" width="167.4000000000001" height="133.10000000000002" fill="url(#simbg)"/>
<ellipse cx="998.74" cy="777.205" rx="58.590000000000025" ry="23.958000000000002" transform="rotate(25 998.74 777.205)" fill="#4e90d4" opacity="0.55"/>
<ellipse cx="1023.85" cy="743.9300000000001" rx="41.85000000000002" ry="13.310000000000002" transform="rotate(20 1023.85 743.9300000000001)" fill="#6aa6dc" opacity="0.5"/>
<ellipse cx="973.63" cy="817.135" rx="50.22000000000003" ry="13.310000000000002" fill="#70aadc" opacity="0.45"/>
<ellipse cx="962" cy="790" rx="50" ry="38" fill="url(#heat)"/>
<ellipse cx="952" cy="791" rx="17" ry="13" fill="#a80c10"/>
<polygon points="924.4,720.6 928.7,729.6 934.0,739.3 939.6,745.3 945.3,752.1 946.2,759.5 943.6,765.5 946.2,774.5 942.7,785.0 939.6,795.5 926.5,792.5 915.6,795.5 907.7,788.0 902.5,779.0 904.2,765.5 906.9,754.3 912.1,743.1 918.2,731.1" fill="#a0a0a0"/>
<ellipse cx="929.6" cy="739.3" rx="5.7" ry="3.7" fill="#fff"/>
</g>
<rect x="899.9" y="705.6" width="164.2000000000001" height="129.90000000000003" fill="none" stroke="#000" stroke-width="3.2"/>
<clipPath id="o4"><rect x="1056.4" y="656.2" width="153.89999999999986" height="159.0999999999999"/></clipPath>
<g clip-path="url(#o4)"><rect x="1056.4" y="656.2" width="153.89999999999986" height="159.0999999999999" fill="url(#simbg)"/>
<ellipse cx="1148.74" cy="743.705" rx="53.86499999999995" ry="28.637999999999984" transform="rotate(25 1148.74 743.705)" fill="#4e90d4" opacity="0.55"/>
<ellipse cx="1171.825" cy="703.9300000000001" rx="38.474999999999966" ry="15.909999999999991" transform="rotate(20 1171.825 703.9300000000001)" fill="#6aa6dc" opacity="0.5"/>
<ellipse cx="1125.655" cy="791.435" rx="46.16999999999996" ry="15.909999999999991" fill="#70aadc" opacity="0.45"/>
<ellipse cx="1150" cy="735" rx="60" ry="30" fill="url(#heat2)"/>
<ellipse cx="1113.6" cy="738.3" rx="20" ry="18" fill="url(#heat)"/>
<circle cx="1115" cy="738.3" r="10.5" fill="#a80c10"/>
<polygon points="1082.3,695.7 1086.7,704.7 1092.0,714.4 1097.6,720.4 1103.3,727.1 1104.2,734.6 1101.6,740.6 1104.2,749.6 1100.7,760.0 1097.6,770.5 1084.5,767.5 1073.6,770.5 1065.7,763.0 1060.5,754.0 1062.2,740.6 1064.9,729.4 1070.1,718.1 1076.2,706.2" fill="#a0a0a0"/>
<ellipse cx="1087.6" cy="714.4" rx="5.7" ry="3.7" fill="#fff"/>
</g>
<rect x="1058.0" y="657.8000000000001" width="150.69999999999987" height="155.89999999999992" fill="none" stroke="#000" stroke-width="3.2"/>
<rect x="662.8" y="759.9" width="94.8" height="6.4" fill="url(#cbar)"/>
<text x="660.8" y="778.7" font-size="12.50" fill="#222" textLength="7.0" lengthAdjust="spacingAndGlyphs" stroke="#222" stroke-width="0.3">0</text>
<text x="707.5" y="778.7" font-size="12.50" fill="#222" textLength="15.5" lengthAdjust="spacingAndGlyphs" stroke="#222" stroke-width="0.3">12</text>
<text x="750.2" y="778.7" font-size="12.50" fill="#222" textLength="14.3" lengthAdjust="spacingAndGlyphs" stroke="#222" stroke-width="0.3">25</text>
<text x="672.9" y="797.6" font-size="12.80" fill="#404040" textLength="82.8" lengthAdjust="spacingAndGlyphs" stroke="#404040" stroke-width="0.3">Elevation [m]</text>
<text x="780.6" y="835.7" font-size="24.49" fill="#000" stroke="#000" stroke-width="0.45" textLength="104.0" lengthAdjust="spacingAndGlyphs">OUTPUT</text>
<g transform="translate(1370,10) scale(0.19198)" stroke="#000" stroke-width="21" stroke-linejoin="round">
<path d="M165,540 L320,540 L320,1222 L230,1222 Q165,1222 165,1160 Z" fill="#ffe9a8"/>
<path d="M880,540 L1035,540 L1035,1160 Q1035,1222 970,1222 L880,1222 Z" fill="#ffe9a8"/>
<rect x="320" y="560" width="560" height="520" fill="#e6e9ef"/>
<line x1="320" y1="960" x2="420" y2="960"/><line x1="780" y1="960" x2="880" y2="960"/>
<rect x="320" y="1010" width="560" height="60" fill="#f4f6f8"/>
<rect x="165" y="435" width="870" height="150" rx="75" fill="#e6e9ef"/>
<rect x="362" y="410" width="214" height="115" fill="#ffd966"/>
<rect x="410" y="455" width="25" height="25" fill="#000" stroke="none"/><rect x="468" y="455" width="58" height="25" fill="#000" stroke="none"/>
<line x1="470" y1="525" x2="535" y2="670"/><line x1="655" y1="585" x2="600" y2="670"/><line x1="435" y1="742" x2="500" y2="742"/>
<rect x="362" y="708" width="72" height="70" fill="#f4806c"/>
<circle cx="565" cy="740" r="63" fill="#f4806c"/>
<rect x="710" y="595" width="168" height="92" fill="#a9d18e"/>
<rect x="762" y="630" width="78" height="22" fill="#000" stroke="none"/>
<line x1="700" y1="756" x2="842" y2="756"/><line x1="760" y1="815" x2="842" y2="815"/>
<path d="M495,1250 L495,1180 Q440,1100 432,1020 L432,910 Q434,880 460,880 Q486,882 488,910 L492,1030 Q497,1050 517,1050 Q540,1050 545,1030 L545,790 Q548,760 572,760 Q598,762 600,790 L600,1030 L600,860 Q605,835 630,838 Q655,842 655,870 L655,1030 L658,880 Q666,860 688,862 Q712,866 712,890 L712,1030 L715,915 Q725,895 745,898 Q770,903 770,930 L770,1080 Q760,1140 712,1185 L712,1250 Z" fill="#f0cfb0"/>
<line x1="600" y1="860" x2="600" y2="1030"/><line x1="655" y1="870" x2="655" y2="1030"/><line x1="712" y1="890" x2="712" y2="1030"/>
</g>
<text x="1420.5" y="287.1" font-size="23.72" fill="#000" stroke="#000" stroke-width="0.9" textLength="142.5" lengthAdjust="spacingAndGlyphs">generalized</text>
<text x="1424.9" y="324.0" font-size="25.36" fill="#000" stroke="#000" stroke-width="0.9" textLength="139.0" lengthAdjust="spacingAndGlyphs">Polynomial</text>
<text x="1387.0" y="360.1" font-size="24.20" fill="#000" stroke="#000" stroke-width="0.9" textLength="208.6" lengthAdjust="spacingAndGlyphs">Chaos Expansion</text>
<text x="1453.0" y="396.2" font-size="22.90" fill="#000" stroke="#000" stroke-width="0.9" textLength="78.3" lengthAdjust="spacingAndGlyphs">(gPCE)</text>
<rect x="1681" y="338" width="80" height="68" fill="#fdefd0"/>
<line x1="1611.9" y1="258.6" x2="1857.1" y2="258.6" stroke="#888" stroke-width="1"/>
<line x1="1733.9" y1="135.2" x2="1733.9" y2="337.2" stroke="#888" stroke-width="1"/>
<line x1="1611.9" y1="255.6" x2="1611.9" y2="261.6" stroke="#888" stroke-width="1"/>
<line x1="1672.9" y1="255.6" x2="1672.9" y2="261.6" stroke="#888" stroke-width="1"/>
<line x1="1794.9" y1="255.6" x2="1794.9" y2="261.6" stroke="#888" stroke-width="1"/>
<line x1="1855.9" y1="255.6" x2="1855.9" y2="261.6" stroke="#888" stroke-width="1"/>
<polyline points="1611.9,137.6 1613.4,137.6 1615.0,137.6 1616.5,137.6 1618.0,137.6 1619.5,137.6 1621.1,137.6 1622.6,137.6 1624.1,137.6 1625.6,137.6 1627.2,137.6 1628.7,137.6 1630.2,137.6 1631.7,137.6 1633.2,137.6 1634.8,137.6 1636.3,137.6 1637.8,137.6 1639.4,137.6 1640.9,137.6 1642.4,137.6 1643.9,137.6 1645.5,137.6 1647.0,137.6 1648.5,137.6 1650.0,137.6 1651.6,137.6 1653.1,137.6 1654.6,137.6 1656.1,137.6 1657.7,137.6 1659.2,137.6 1660.7,137.6 1662.2,137.6 1663.8,137.6 1665.3,137.6 1666.8,137.6 1668.3,137.6 1669.9,137.6 1671.4,137.6 1672.9,137.6 1674.4,137.6 1676.0,137.6 1677.5,137.6 1679.0,137.6 1680.5,137.6 1682.1,137.6 1683.6,137.6 1685.1,137.6 1686.6,137.6 1688.2,137.6 1689.7,137.6 1691.2,137.6 1692.7,137.6 1694.2,137.6 1695.8,137.6 1697.3,137.6 1698.8,137.6 1700.4,137.6 1701.9,137.6 1703.4,137.6 1704.9,137.6 1706.5,137.6 1708.0,137.6 1709.5,137.6 1711.0,137.6 1712.6,137.6 1714.1,137.6 1715.6,137.6 1717.1,137.6 1718.7,137.6 1720.2,137.6 1721.7,137.6 1723.2,137.6 1724.8,137.6 1726.3,137.6 1727.8,137.6 1729.3,137.6 1730.9,137.6 1732.4,137.6 1733.9,137.6 1735.4,137.6 1737.0,137.6 1738.5,137.6 1740.0,137.6 1741.5,137.6 1743.1,137.6 1744.6,137.6 1746.1,137.6 1747.6,137.6 1749.2,137.6 1750.7,137.6 1752.2,137.6 1753.7,137.6 1755.2,137.6 1756.8,137.6 1758.3,137.6 1759.8,137.6 1761.4,137.6 1762.9,137.6 1764.4,137.6 1765.9,137.6 1767.5,137.6 1769.0,137.6 1770.5,137.6 1772.0,137.6 1773.6,137.6 1775.1,137.6 1776.6,137.6 1778.1,137.6 1779.7,137.6 1781.2,137.6 1782.7,137.6 1784.2,137.6 1785.8,137.6 1787.3,137.6 1788.8,137.6 1790.3,137.6 1791.9,137.6 1793.4,137.6 1794.9,137.6 1796.4,137.6 1798.0,137.6 1799.5,137.6 1801.0,137.6 1802.5,137.6 1804.1,137.6 1805.6,137.6 1807.1,137.6 1808.6,137.6 1810.2,137.6 1811.7,137.6 1813.2,137.6 1814.7,137.6 1816.2,137.6 1817.8,137.6 1819.3,137.6 1820.8,137.6 1822.4,137.6 1823.9,137.6 1825.4,137.6 1826.9,137.6 1828.5,137.6 1830.0,137.6 1831.5,137.6 1833.0,137.6 1834.6,137.6 1836.1,137.6 1837.6,137.6 1839.1,137.6 1840.7,137.6 1842.2,137.6 1843.7,137.6 1845.2,137.6 1846.8,137.6 1848.3,137.6 1849.8,137.6 1851.3,137.6 1852.9,137.6 1854.4,137.6 1855.9,137.6" fill="none" stroke="#a03030" stroke-width="1.8"/>
<polyline points="1611.9,137.6 1613.4,167.4 1615.0,193.6 1616.5,216.3 1618.0,235.9 1619.5,252.6 1621.1,266.7 1622.6,278.3 1624.1,287.8 1625.6,295.2 1627.2,300.8 1628.7,304.8 1630.2,307.4 1631.7,308.6 1633.2,308.7 1634.8,307.8 1636.3,306.0 1637.8,303.5 1639.4,300.3 1640.9,296.7 1642.4,292.6 1643.9,288.2 1645.5,283.5 1647.0,278.7 1648.5,273.8 1650.0,268.8 1651.6,263.9 1653.1,259.1 1654.6,254.4 1656.1,249.9 1657.7,245.6 1659.2,241.6 1660.7,237.8 1662.2,234.3 1663.8,231.1 1665.3,228.3 1666.8,225.8 1668.3,223.7 1669.9,221.9 1671.4,220.5 1672.9,219.5 1674.4,218.8 1676.0,218.5 1677.5,218.5 1679.0,218.8 1680.5,219.4 1682.1,220.4 1683.6,221.7 1685.1,223.2 1686.6,225.0 1688.2,227.0 1689.7,229.2 1691.2,231.7 1692.7,234.3 1694.2,237.1 1695.8,240.0 1697.3,243.0 1698.8,246.1 1700.4,249.2 1701.9,252.4 1703.4,255.7 1704.9,258.9 1706.5,262.1 1708.0,265.3 1709.5,268.3 1711.0,271.4 1712.6,274.3 1714.1,277.1 1715.6,279.7 1717.1,282.2 1718.7,284.6 1720.2,286.7 1721.7,288.7 1723.2,290.5 1724.8,292.0 1726.3,293.3 1727.8,294.4 1729.3,295.3 1730.9,295.9 1732.4,296.3 1733.9,296.4 1735.4,296.3 1737.0,295.9 1738.5,295.3 1740.0,294.4 1741.5,293.3 1743.1,292.0 1744.6,290.5 1746.1,288.7 1747.6,286.7 1749.2,284.6 1750.7,282.2 1752.2,279.7 1753.7,277.1 1755.2,274.3 1756.8,271.4 1758.3,268.3 1759.8,265.3 1761.4,262.1 1762.9,258.9 1764.4,255.7 1765.9,252.4 1767.5,249.2 1769.0,246.1 1770.5,243.0 1772.0,240.0 1773.6,237.1 1775.1,234.3 1776.6,231.7 1778.1,229.2 1779.7,227.0 1781.2,225.0 1782.7,223.2 1784.2,221.7 1785.8,220.4 1787.3,219.4 1788.8,218.8 1790.3,218.5 1791.9,218.5 1793.4,218.8 1794.9,219.5 1796.4,220.5 1798.0,221.9 1799.5,223.7 1801.0,225.8 1802.5,228.3 1804.1,231.1 1805.6,234.3 1807.1,237.8 1808.6,241.6 1810.2,245.6 1811.7,249.9 1813.2,254.4 1814.7,259.1 1816.2,263.9 1817.8,268.8 1819.3,273.8 1820.8,278.7 1822.4,283.5 1823.9,288.2 1825.4,292.6 1826.9,296.7 1828.5,300.3 1830.0,303.5 1831.5,306.0 1833.0,307.8 1834.6,308.7 1836.1,308.6 1837.6,307.4 1839.1,304.8 1840.7,300.8 1842.2,295.2 1843.7,287.8 1845.2,278.3 1846.8,266.7 1848.3,252.6 1849.8,235.9 1851.3,216.3 1852.9,193.6 1854.4,167.4 1855.9,137.6" fill="none" stroke="#c09020" stroke-width="1.8"/>
<polyline points="1611.9,379.6 1613.4,357.9 1615.0,338.1 1616.5,320.0 1618.0,303.7 1619.5,289.0 1621.1,275.8 1622.6,264.0 1624.1,253.6 1625.6,244.5 1627.2,236.6 1628.7,229.8 1630.2,224.0 1631.7,219.3 1633.2,215.4 1634.8,212.5 1636.3,210.3 1637.8,208.8 1639.4,208.0 1640.9,207.8 1642.4,208.2 1643.9,209.1 1645.5,210.5 1647.0,212.3 1648.5,214.4 1650.0,216.9 1651.6,219.6 1653.1,222.7 1654.6,225.9 1656.1,229.3 1657.7,232.8 1659.2,236.4 1660.7,240.1 1662.2,243.9 1663.8,247.7 1665.3,251.4 1666.8,255.2 1668.3,258.9 1669.9,262.5 1671.4,266.0 1672.9,269.5 1674.4,272.8 1676.0,275.9 1677.5,279.0 1679.0,281.8 1680.5,284.5 1682.1,287.0 1683.6,289.3 1685.1,291.3 1686.6,293.2 1688.2,294.9 1689.7,296.4 1691.2,297.6 1692.7,298.6 1694.2,299.4 1695.8,300.0 1697.3,300.4 1698.8,300.5 1700.4,300.5 1701.9,300.2 1703.4,299.7 1704.9,299.0 1706.5,298.1 1708.0,297.1 1709.5,295.8 1711.0,294.4 1712.6,292.8 1714.1,291.0 1715.6,289.1 1717.1,287.1 1718.7,284.9 1720.2,282.6 1721.7,280.2 1723.2,277.7 1724.8,275.2 1726.3,272.5 1727.8,269.8 1729.3,267.1 1730.9,264.3 1732.4,261.4 1733.9,258.6 1735.4,255.8 1737.0,252.9 1738.5,250.1 1740.0,247.4 1741.5,244.7 1743.1,242.0 1744.6,239.5 1746.1,237.0 1747.6,234.6 1749.2,232.3 1750.7,230.1 1752.2,228.1 1753.7,226.2 1755.2,224.4 1756.8,222.8 1758.3,221.4 1759.8,220.1 1761.4,219.1 1762.9,218.2 1764.4,217.5 1765.9,217.0 1767.5,216.7 1769.0,216.7 1770.5,216.8 1772.0,217.2 1773.6,217.8 1775.1,218.6 1776.6,219.6 1778.1,220.8 1779.7,222.3 1781.2,224.0 1782.7,225.9 1784.2,227.9 1785.8,230.2 1787.3,232.7 1788.8,235.4 1790.3,238.2 1791.9,241.3 1793.4,244.4 1794.9,247.7 1796.4,251.2 1798.0,254.7 1799.5,258.3 1801.0,262.0 1802.5,265.8 1804.1,269.5 1805.6,273.3 1807.1,277.1 1808.6,280.8 1810.2,284.4 1811.7,287.9 1813.2,291.3 1814.7,294.5 1816.2,297.6 1817.8,300.3 1819.3,302.8 1820.8,304.9 1822.4,306.7 1823.9,308.1 1825.4,309.0 1826.9,309.4 1828.5,309.2 1830.0,308.4 1831.5,306.9 1833.0,304.7 1834.6,301.8 1836.1,297.9 1837.6,293.2 1839.1,287.4 1840.7,280.6 1842.2,272.7 1843.7,263.6 1845.2,253.2 1846.8,241.4 1848.3,228.2 1849.8,213.5 1851.3,197.2 1852.9,179.1 1854.4,159.3 1855.9,137.6" fill="none" stroke="#5a7a30" stroke-width="1.8"/>
<polyline points="1611.9,137.6 1613.4,152.3 1615.0,166.2 1616.5,179.3 1618.0,191.6 1619.5,203.1 1621.1,213.9 1622.6,224.0 1624.1,233.4 1625.6,242.2 1627.2,250.3 1628.7,257.8 1630.2,264.7 1631.7,271.1 1633.2,276.8 1634.8,282.1 1636.3,286.8 1637.8,291.0 1639.4,294.8 1640.9,298.1 1642.4,301.0 1643.9,303.4 1645.5,305.5 1647.0,307.1 1648.5,308.5 1650.0,309.4 1651.6,310.1 1653.1,310.4 1654.6,310.4 1656.1,310.2 1657.7,309.7 1659.2,308.9 1660.7,308.0 1662.2,306.8 1663.8,305.4 1665.3,303.8 1666.8,302.0 1668.3,300.1 1669.9,298.1 1671.4,295.9 1672.9,293.6 1674.4,291.2 1676.0,288.7 1677.5,286.1 1679.0,283.4 1680.5,280.7 1682.1,277.9 1683.6,275.1 1685.1,272.3 1686.6,269.4 1688.2,266.6 1689.7,263.7 1691.2,260.9 1692.7,258.0 1694.2,255.2 1695.8,252.5 1697.3,249.8 1698.8,247.1 1700.4,244.5 1701.9,242.0 1703.4,239.5 1704.9,237.1 1706.5,234.8 1708.0,232.6 1709.5,230.5 1711.0,228.5 1712.6,226.6 1714.1,224.8 1715.6,223.2 1717.1,221.6 1718.7,220.2 1720.2,218.9 1721.7,217.7 1723.2,216.7 1724.8,215.8 1726.3,215.0 1727.8,214.4 1729.3,213.9 1730.9,213.5 1732.4,213.3 1733.9,213.2 1735.4,213.3 1737.0,213.5 1738.5,213.9 1740.0,214.4 1741.5,215.0 1743.1,215.8 1744.6,216.7 1746.1,217.7 1747.6,218.9 1749.2,220.2 1750.7,221.6 1752.2,223.2 1753.7,224.8 1755.2,226.6 1756.8,228.5 1758.3,230.5 1759.8,232.6 1761.4,234.8 1762.9,237.1 1764.4,239.5 1765.9,242.0 1767.5,244.5 1769.0,247.1 1770.5,249.8 1772.0,252.5 1773.6,255.2 1775.1,258.0 1776.6,260.9 1778.1,263.7 1779.7,266.6 1781.2,269.4 1782.7,272.3 1784.2,275.1 1785.8,277.9 1787.3,280.7 1788.8,283.4 1790.3,286.1 1791.9,288.7 1793.4,291.2 1794.9,293.6 1796.4,295.9 1798.0,298.1 1799.5,300.1 1801.0,302.0 1802.5,303.8 1804.1,305.4 1805.6,306.8 1807.1,308.0 1808.6,308.9 1810.2,309.7 1811.7,310.2 1813.2,310.4 1814.7,310.4 1816.2,310.1 1817.8,309.4 1819.3,308.5 1820.8,307.1 1822.4,305.5 1823.9,303.4 1825.4,301.0 1826.9,298.1 1828.5,294.8 1830.0,291.0 1831.5,286.8 1833.0,282.1 1834.6,276.8 1836.1,271.1 1837.6,264.7 1839.1,257.8 1840.7,250.3 1842.2,242.2 1843.7,233.4 1845.2,224.0 1846.8,213.9 1848.3,203.1 1849.8,191.6 1851.3,179.3 1852.9,166.2 1854.4,152.3 1855.9,137.6" fill="none" stroke="#a040f0" stroke-width="1.8"/>
<polyline points="1611.9,379.6 1613.4,370.7 1615.0,362.0 1616.5,353.6 1618.0,345.5 1619.5,337.7 1621.1,330.1 1622.6,322.8 1624.1,315.8 1625.6,309.0 1627.2,302.4 1628.7,296.1 1630.2,290.1 1631.7,284.3 1633.2,278.7 1634.8,273.4 1636.3,268.3 1637.8,263.4 1639.4,258.7 1640.9,254.3 1642.4,250.1 1643.9,246.1 1645.5,242.3 1647.0,238.7 1648.5,235.3 1650.0,232.1 1651.6,229.1 1653.1,226.3 1654.6,223.7 1656.1,221.3 1657.7,219.0 1659.2,216.9 1660.7,215.0 1662.2,213.3 1663.8,211.7 1665.3,210.3 1666.8,209.1 1668.3,208.0 1669.9,207.1 1671.4,206.3 1672.9,205.7 1674.4,205.2 1676.0,204.8 1677.5,204.6 1679.0,204.5 1680.5,204.5 1682.1,204.7 1683.6,205.0 1685.1,205.4 1686.6,205.9 1688.2,206.5 1689.7,207.2 1691.2,208.0 1692.7,209.0 1694.2,210.0 1695.8,211.1 1697.3,212.3 1698.8,213.6 1700.4,215.0 1701.9,216.4 1703.4,218.0 1704.9,219.5 1706.5,221.2 1708.0,222.9 1709.5,224.7 1711.0,226.6 1712.6,228.5 1714.1,230.4 1715.6,232.4 1717.1,234.4 1718.7,236.5 1720.2,238.6 1721.7,240.8 1723.2,242.9 1724.8,245.1 1726.3,247.3 1727.8,249.6 1729.3,251.8 1730.9,254.1 1732.4,256.3 1733.9,258.6 1735.4,260.9 1737.0,263.1 1738.5,265.4 1740.0,267.6 1741.5,269.9 1743.1,272.1 1744.6,274.3 1746.1,276.4 1747.6,278.6 1749.2,280.7 1750.7,282.8 1752.2,284.8 1753.7,286.8 1755.2,288.7 1756.8,290.6 1758.3,292.5 1759.8,294.3 1761.4,296.0 1762.9,297.7 1764.4,299.2 1765.9,300.8 1767.5,302.2 1769.0,303.6 1770.5,304.9 1772.0,306.1 1773.6,307.2 1775.1,308.2 1776.6,309.2 1778.1,310.0 1779.7,310.7 1781.2,311.3 1782.7,311.8 1784.2,312.2 1785.8,312.5 1787.3,312.7 1788.8,312.7 1790.3,312.6 1791.9,312.4 1793.4,312.0 1794.9,311.5 1796.4,310.9 1798.0,310.1 1799.5,309.2 1801.0,308.1 1802.5,306.9 1804.1,305.5 1805.6,303.9 1807.1,302.2 1808.6,300.3 1810.2,298.2 1811.7,295.9 1813.2,293.5 1814.7,290.9 1816.2,288.1 1817.8,285.1 1819.3,281.9 1820.8,278.5 1822.4,274.9 1823.9,271.1 1825.4,267.1 1826.9,262.9 1828.5,258.5 1830.0,253.8 1831.5,248.9 1833.0,243.8 1834.6,238.5 1836.1,232.9 1837.6,227.1 1839.1,221.1 1840.7,214.8 1842.2,208.2 1843.7,201.4 1845.2,194.4 1846.8,187.1 1848.3,179.5 1849.8,171.7 1851.3,163.6 1852.9,155.2 1854.4,146.5 1855.9,137.6" fill="none" stroke="#ff8c1a" stroke-width="1.8"/>
<polyline points="1611.9,137.6 1613.4,142.1 1615.0,146.6 1616.5,151.0 1618.0,155.3 1619.5,159.6 1621.1,163.8 1622.6,168.0 1624.1,172.1 1625.6,176.1 1627.2,180.1 1628.7,184.1 1630.2,188.0 1631.7,191.8 1633.2,195.6 1634.8,199.3 1636.3,202.9 1637.8,206.5 1639.4,210.1 1640.9,213.6 1642.4,217.0 1643.9,220.4 1645.5,223.7 1647.0,227.0 1648.5,230.2 1650.0,233.3 1651.6,236.4 1653.1,239.4 1654.6,242.4 1656.1,245.3 1657.7,248.2 1659.2,251.0 1660.7,253.8 1662.2,256.5 1663.8,259.1 1665.3,261.7 1666.8,264.2 1668.3,266.7 1669.9,269.1 1671.4,271.4 1672.9,273.7 1674.4,276.0 1676.0,278.1 1677.5,280.3 1679.0,282.3 1680.5,284.4 1682.1,286.3 1683.6,288.2 1685.1,290.1 1686.6,291.8 1688.2,293.6 1689.7,295.2 1691.2,296.9 1692.7,298.4 1694.2,299.9 1695.8,301.4 1697.3,302.8 1698.8,304.1 1700.4,305.4 1701.9,306.6 1703.4,307.8 1704.9,308.9 1706.5,309.9 1708.0,310.9 1709.5,311.8 1711.0,312.7 1712.6,313.5 1714.1,314.3 1715.6,315.0 1717.1,315.7 1718.7,316.3 1720.2,316.8 1721.7,317.3 1723.2,317.7 1724.8,318.1 1726.3,318.4 1727.8,318.6 1729.3,318.8 1730.9,319.0 1732.4,319.1 1733.9,319.1 1735.4,319.1 1737.0,319.0 1738.5,318.8 1740.0,318.6 1741.5,318.4 1743.1,318.1 1744.6,317.7 1746.1,317.3 1747.6,316.8 1749.2,316.3 1750.7,315.7 1752.2,315.0 1753.7,314.3 1755.2,313.5 1756.8,312.7 1758.3,311.8 1759.8,310.9 1761.4,309.9 1762.9,308.9 1764.4,307.8 1765.9,306.6 1767.5,305.4 1769.0,304.1 1770.5,302.8 1772.0,301.4 1773.6,299.9 1775.1,298.4 1776.6,296.9 1778.1,295.2 1779.7,293.6 1781.2,291.8 1782.7,290.1 1784.2,288.2 1785.8,286.3 1787.3,284.4 1788.8,282.3 1790.3,280.3 1791.9,278.1 1793.4,276.0 1794.9,273.7 1796.4,271.4 1798.0,269.1 1799.5,266.7 1801.0,264.2 1802.5,261.7 1804.1,259.1 1805.6,256.5 1807.1,253.8 1808.6,251.0 1810.2,248.2 1811.7,245.3 1813.2,242.4 1814.7,239.4 1816.2,236.4 1817.8,233.3 1819.3,230.2 1820.8,227.0 1822.4,223.7 1823.9,220.4 1825.4,217.0 1826.9,213.6 1828.5,210.1 1830.0,206.5 1831.5,202.9 1833.0,199.3 1834.6,195.6 1836.1,191.8 1837.6,188.0 1839.1,184.1 1840.7,180.1 1842.2,176.1 1843.7,172.1 1845.2,168.0 1846.8,163.8 1848.3,159.6 1849.8,155.3 1851.3,151.0 1852.9,146.6 1854.4,142.1 1855.9,137.6" fill="none" stroke="#2a8a2a" stroke-width="1.8"/>
<polyline points="1611.9,379.6 1613.4,378.1 1615.0,376.6 1616.5,375.1 1618.0,373.6 1619.5,372.0 1621.1,370.5 1622.6,369.0 1624.1,367.5 1625.6,366.0 1627.2,364.5 1628.7,363.0 1630.2,361.5 1631.7,359.9 1633.2,358.4 1634.8,356.9 1636.3,355.4 1637.8,353.9 1639.4,352.4 1640.9,350.9 1642.4,349.4 1643.9,347.8 1645.5,346.3 1647.0,344.8 1648.5,343.3 1650.0,341.8 1651.6,340.3 1653.1,338.8 1654.6,337.2 1656.1,335.7 1657.7,334.2 1659.2,332.7 1660.7,331.2 1662.2,329.7 1663.8,328.2 1665.3,326.7 1666.8,325.2 1668.3,323.6 1669.9,322.1 1671.4,320.6 1672.9,319.1 1674.4,317.6 1676.0,316.1 1677.5,314.6 1679.0,313.1 1680.5,311.5 1682.1,310.0 1683.6,308.5 1685.1,307.0 1686.6,305.5 1688.2,304.0 1689.7,302.5 1691.2,301.0 1692.7,299.4 1694.2,297.9 1695.8,296.4 1697.3,294.9 1698.8,293.4 1700.4,291.9 1701.9,290.4 1703.4,288.9 1704.9,287.3 1706.5,285.8 1708.0,284.3 1709.5,282.8 1711.0,281.3 1712.6,279.8 1714.1,278.3 1715.6,276.8 1717.1,275.2 1718.7,273.7 1720.2,272.2 1721.7,270.7 1723.2,269.2 1724.8,267.7 1726.3,266.2 1727.8,264.7 1729.3,263.1 1730.9,261.6 1732.4,260.1 1733.9,258.6 1735.4,257.1 1737.0,255.6 1738.5,254.1 1740.0,252.6 1741.5,251.0 1743.1,249.5 1744.6,248.0 1746.1,246.5 1747.6,245.0 1749.2,243.5 1750.7,242.0 1752.2,240.5 1753.7,238.9 1755.2,237.4 1756.8,235.9 1758.3,234.4 1759.8,232.9 1761.4,231.4 1762.9,229.9 1764.4,228.4 1765.9,226.8 1767.5,225.3 1769.0,223.8 1770.5,222.3 1772.0,220.8 1773.6,219.3 1775.1,217.8 1776.6,216.2 1778.1,214.7 1779.7,213.2 1781.2,211.7 1782.7,210.2 1784.2,208.7 1785.8,207.2 1787.3,205.7 1788.8,204.2 1790.3,202.6 1791.9,201.1 1793.4,199.6 1794.9,198.1 1796.4,196.6 1798.0,195.1 1799.5,193.6 1801.0,192.1 1802.5,190.5 1804.1,189.0 1805.6,187.5 1807.1,186.0 1808.6,184.5 1810.2,183.0 1811.7,181.5 1813.2,179.9 1814.7,178.4 1816.2,176.9 1817.8,175.4 1819.3,173.9 1820.8,172.4 1822.4,170.9 1823.9,169.4 1825.4,167.9 1826.9,166.3 1828.5,164.8 1830.0,163.3 1831.5,161.8 1833.0,160.3 1834.6,158.8 1836.1,157.3 1837.6,155.8 1839.1,154.2 1840.7,152.7 1842.2,151.2 1843.7,149.7 1845.2,148.2 1846.8,146.7 1848.3,145.2 1849.8,143.7 1851.3,142.1 1852.9,140.6 1854.4,139.1 1855.9,137.6" fill="none" stroke="#3040a8" stroke-width="1.8"/>
<text x="1829" y="131" font-size="13.5" font-style="italic" fill="#555" style="font-family:'Liberation Serif'">P<tspan font-size="9" dy="3" font-style="normal">0</tspan></text>
<text x="1625" y="168" font-size="13.5" font-style="italic" fill="#555" style="font-family:'Liberation Serif'">P<tspan font-size="9" dy="3" font-style="normal">2</tspan></text>
<text x="1661" y="199" font-size="13.5" font-style="italic" fill="#555" style="font-family:'Liberation Serif'">P<tspan font-size="9" dy="3" font-style="normal">3</tspan></text>
<text x="1752" y="212" font-size="13.5" font-style="italic" fill="#555" style="font-family:'Liberation Serif'">P<tspan font-size="9" dy="3" font-style="normal">5</tspan></text>
<text x="1799" y="219" font-size="13.5" font-style="italic" fill="#555" style="font-family:'Liberation Serif'">P<tspan font-size="9" dy="3" font-style="normal">6</tspan></text>
<text x="1646" y="303" font-size="13.5" font-style="italic" fill="#555" style="font-family:'Liberation Serif'">P<tspan font-size="9" dy="3" font-style="normal">4</tspan></text>
<text x="1632" y="372" font-size="13.5" font-style="italic" fill="#555" style="font-family:'Liberation Serif'">P<tspan font-size="9" dy="3" font-style="normal">1</tspan></text>
<text x="1711" y="201" font-size="11" fill="#555" style="font-family:'Liberation Serif'">0.5</text>
<text x="1725" y="141" font-size="11" fill="#555" style="font-family:'Liberation Serif'">1</text>
<text x="1604" y="274" font-size="11" fill="#555" style="font-family:'Liberation Serif'">-1</text>
<text x="1661" y="274" font-size="11" fill="#555" style="font-family:'Liberation Serif'">-0.5</text>
<text x="1727" y="272" font-size="11" fill="#555" style="font-family:'Liberation Serif'">0</text>
<text x="1786" y="273" font-size="11" fill="#555" style="font-family:'Liberation Serif'">0.5</text>
<text x="1853" y="274" font-size="11" fill="#555" style="font-family:'Liberation Serif'">1</text>
<text x="1705" y="324" font-size="11" fill="#555" style="font-family:'Liberation Serif'">-0.5</text>
<text x="1793" y="289" font-size="12" font-style="italic" fill="#555" style="font-family:'Liberation Serif'">x</text>
<text x="1705.4" y="363.0" font-size="23.33" fill="#000" stroke="#000" stroke-width="0.9" textLength="112.8" lengthAdjust="spacingAndGlyphs">Legendre</text>
<text x="1686.7" y="399.0" font-size="25.22" fill="#000" stroke="#000" stroke-width="0.9" textLength="148.9" lengthAdjust="spacingAndGlyphs">Polynomials</text>
<line x1="1423.7" y1="594.8" x2="1423.7" y2="795.3" stroke="#777" stroke-width="1.3"/>
<line x1="1423.7" y1="795.3" x2="1669.4" y2="795.3" stroke="#777" stroke-width="1.3"/>
<line x1="1448.7" y1="786" x2="1448.7" y2="802.6" stroke="#777" stroke-width="1.2"/>
<line x1="1475.0" y1="786" x2="1475.0" y2="802.6" stroke="#777" stroke-width="1.2"/>
<line x1="1501.3" y1="786" x2="1501.3" y2="802.6" stroke="#777" stroke-width="1.2"/>
<line x1="1527.6" y1="786" x2="1527.6" y2="802.6" stroke="#777" stroke-width="1.2"/>
<line x1="1553.9" y1="786" x2="1553.9" y2="802.6" stroke="#777" stroke-width="1.2"/>
<line x1="1580.2" y1="786" x2="1580.2" y2="802.6" stroke="#777" stroke-width="1.2"/>
<line x1="1606.5" y1="786" x2="1606.5" y2="802.6" stroke="#777" stroke-width="1.2"/>
<line x1="1632.8" y1="786" x2="1632.8" y2="802.6" stroke="#777" stroke-width="1.2"/>
<line x1="1659.1" y1="786" x2="1659.1" y2="802.6" stroke="#777" stroke-width="1.2"/>
<polyline points="1425.9,599.7 1427.9,611.6 1430.0,622.5 1432.0,632.5 1434.0,641.7 1436.0,650.2 1438.1,658.0 1440.1,665.3 1442.1,672.1 1444.2,678.4 1446.2,684.3 1448.2,689.8 1450.2,694.9 1452.3,699.7 1454.3,704.2 1456.3,708.5 1458.4,712.5 1460.4,716.2 1462.4,719.7 1464.5,723.0 1466.5,726.1 1468.5,729.1 1470.5,731.8 1472.6,734.4 1474.6,736.9 1476.6,739.2 1478.7,741.4 1480.7,743.5 1482.7,745.4 1484.7,747.3 1486.8,749.0 1488.8,750.7 1490.8,752.3 1492.9,753.8 1494.9,755.2 1496.9,756.5 1499.0,757.8 1501.0,759.0 1503.0,760.1 1505.0,761.2 1507.1,762.2 1509.1,763.2 1511.1,764.1 1513.2,765.0 1515.2,765.8 1517.2,766.6 1519.2,767.3 1521.3,768.1 1523.3,768.8 1525.3,769.4 1527.4,770.0 1529.4,770.6 1531.4,771.2 1533.4,771.7 1535.5,772.2 1537.5,772.7 1539.5,773.2 1541.6,773.7 1543.6,774.1 1545.6,774.5 1547.7,774.9 1549.7,775.3 1551.7,775.6 1553.7,776.0 1555.8,776.3 1557.8,776.6 1559.8,776.9 1561.9,777.2 1563.9,777.5 1565.9,777.8 1567.9,778.0 1570.0,778.3 1572.0,778.5 1574.0,778.8 1576.1,779.0 1578.1,779.2 1580.1,779.4 1582.1,779.6 1584.2,779.8 1586.2,780.0 1588.2,780.2 1590.3,780.4 1592.3,780.5 1594.3,780.7 1596.4,780.9 1598.4,781.0 1600.4,781.2 1602.4,781.3 1604.5,781.4 1606.5,781.6 1608.5,781.7 1610.6,781.8 1612.6,782.0 1614.6,782.1 1616.6,782.2 1618.7,782.3 1620.7,782.4 1622.7,782.5 1624.8,782.7 1626.8,782.8 1628.8,782.9 1630.8,783.0 1632.9,783.1 1634.9,783.1 1636.9,783.2 1639.0,783.3 1641.0,783.4 1643.0,783.5 1645.1,783.6 1647.1,783.7 1649.1,783.7 1651.1,783.8 1653.2,783.9 1655.2,784.0 1657.2,784.1 1659.3,784.1 1661.3,784.2 1663.3,784.3 1665.3,784.3 1667.4,784.4 1669.4,784.5" fill="none" stroke="#b01c1c" stroke-width="1.8"/>
<text x="1439.5" y="651.2" font-size="24.20" fill="#000" stroke="#000" stroke-width="0.6" textLength="160.0" lengthAdjust="spacingAndGlyphs">Convergence</text>
<text x="1689.7" y="786.0" font-size="24.20" fill="#000" stroke="#000" stroke-width="0.6" textLength="158.2" lengthAdjust="spacingAndGlyphs">Performance</text>
<text x="1474.4" y="837.6" font-size="24.2" stroke="#000" stroke-width="0.6" textLength="156.4" lengthAdjust="spacingAndGlyphs">Total order <tspan font-style="italic">p</tspan></text>
<g transform="translate(1411.9,758.5) rotate(-90)">
<text x="0.0" y="0.0" font-size="23.91" fill="#000" stroke="#000" stroke-width="0.6" textLength="126.9" lengthAdjust="spacingAndGlyphs">RMS error</text>
</g>
<g transform="translate(1590,510) scale(0.2)" stroke="#000" stroke-width="22" stroke-linejoin="round">
<path d="M564.5,259.1 A375,375 0 0 1 846.9,115.2 L852.5,275.1 A215,215 0 0 0 690.6,357.6 Z" fill="#ff3d55"/>
<path d="M846.9,115.2 A375,375 0 0 1 1234.5,470.4 L1074.7,478.7 A215,215 0 0 0 852.5,275.1 Z" fill="#ffd43b"/>
<path d="M1234.5,470.4 A375,375 0 0 1 1110.9,768.7 L1003.9,649.8 A215,215 0 0 0 1074.7,478.7 Z" fill="#45c060"/>
<path d="M800,40 A455,455 0 0 1 1250,255" fill="none" stroke-width="18"/>
<polygon points="1265,258 1205,245 1230,300" fill="#000" stroke="none"/>
<polygon points="840,445 1250,260 890,540" fill="#4a6890"/>
<circle cx="860" cy="490" r="58" fill="#d6e2f0"/>
<polygon points="205,112 360,275 280,275 280,578 128,578 128,275 48,275" fill="#43b65d"/>
<rect x="128" y="710" width="152" height="308" fill="#ff3c55"/>
<rect x="373" y="428" width="155" height="590" fill="#ffa630"/>
<rect x="618" y="600" width="152" height="418" fill="#5aa0f5"/>
<rect x="60" y="1018" width="680" height="85" rx="10" fill="#44628a"/>
<polygon points="1053.2,1034.4 1084.5,1056.7 1060.5,1114.5 1022.6,1108.1 988.1,1142.6 994.5,1180.5 936.7,1204.5 914.4,1173.2 865.6,1173.2 843.3,1204.5 785.5,1180.5 791.9,1142.6 757.4,1108.1 719.5,1114.5 695.5,1056.7 726.8,1034.4 726.8,985.6 695.5,963.3 719.5,905.5 757.4,911.9 791.9,877.4 785.5,839.5 843.3,815.5 865.6,846.8 914.4,846.8 936.7,815.5 994.5,839.5 988.1,877.4 1022.6,911.9 1060.5,905.5 1084.5,963.3 1053.2,985.6" fill="#ffa630"/>
<circle cx="890" cy="1010" r="85" fill="#d6e2f0"/>
</g>
<circle cx="533.2" cy="1017" r="95.7" fill="#2c5a7f"/>
<path d="M505.4,1068.0 L506.6,1068.0 L507.9,1067.9 L509.1,1067.8 L510.4,1067.6 L511.6,1067.4 L512.9,1067.2 L514.1,1066.9 L515.4,1066.5 L516.6,1066.0 L517.9,1065.5 L519.1,1064.7 L520.4,1063.8 L521.6,1062.8 L522.9,1061.5 L524.1,1060.0 L525.4,1058.2 L526.6,1056.2 L527.9,1053.8 L529.1,1051.1 L530.4,1048.1 L531.6,1044.7 L532.9,1041.0 L534.1,1036.9 L535.4,1032.5 L536.6,1027.8 L537.9,1022.8 L539.1,1017.7 L540.4,1012.4 L541.6,1007.0 L542.9,1001.7 L544.1,996.4 L545.4,991.4 L546.6,986.7 L547.9,982.3 L549.1,978.5 L550.4,975.2 L551.6,972.6 L552.9,970.7 L554.1,969.5 L555.4,969.1 L556.6,969.5 L557.9,970.7 L559.1,972.6 L560.4,975.2 L561.6,978.5 L562.9,982.3 L564.1,986.7 L565.4,991.4 L566.6,996.4 L567.9,1001.7 L569.1,1007.0 L570.4,1012.4 L571.6,1017.7 L572.9,1022.8 L574.1,1027.8 L575.4,1032.5 L576.6,1036.9 L577.9,1041.0 L579.1,1044.7 L580.4,1048.1 L581.6,1051.1 L582.9,1053.8 L584.1,1056.2 L585.4,1058.2 L586.6,1060.0 L587.9,1061.5 L589.1,1062.8 L590.4,1063.8 L591.6,1064.7 L592.9,1065.5 L594.1,1066.0 L595.4,1066.5 L596.6,1066.9 L597.9,1067.2 L599.1,1067.4 L600.4,1067.6 L601.6,1067.8 L602.9,1067.9 L604.1,1068.0 L605.4,1068.0 Z" fill="#fd7446" stroke="#fff" stroke-width="2.2"/>
<path d="M483.2,1068.0 L484.5,1068.0 L485.7,1067.9 L487.0,1067.8 L488.2,1067.6 L489.5,1067.4 L490.7,1067.2 L492.0,1066.9 L493.2,1066.5 L494.5,1066.0 L495.7,1065.5 L497.0,1064.7 L498.2,1063.8 L499.5,1062.8 L500.7,1061.5 L502.0,1060.0 L503.2,1058.2 L504.5,1056.2 L505.7,1053.8 L507.0,1051.1 L508.2,1048.1 L509.5,1044.7 L510.7,1041.0 L512.0,1036.9 L513.2,1032.5 L514.5,1027.8 L515.7,1022.8 L517.0,1017.7 L518.2,1012.4 L519.5,1007.0 L520.7,1001.7 L522.0,996.4 L523.2,991.4 L524.5,986.7 L525.7,982.3 L527.0,978.5 L528.2,975.2 L529.5,972.6 L530.7,970.7 L532.0,969.5 L533.2,969.1 L534.5,969.5 L535.7,970.7 L537.0,972.6 L538.2,975.2 L539.5,978.5 L540.7,982.3 L542.0,986.7 L543.2,991.4 L544.5,996.4 L545.7,1001.7 L547.0,1007.0 L548.2,1012.4 L549.5,1017.7 L550.7,1022.8 L552.0,1027.8 L553.2,1032.5 L554.5,1036.9 L555.7,1041.0 L557.0,1044.7 L558.2,1048.1 L559.5,1051.1 L560.7,1053.8 L562.0,1056.2 L563.2,1058.2 L564.5,1060.0 L565.7,1061.5 L567.0,1062.8 L568.2,1063.8 L569.5,1064.7 L570.7,1065.5 L572.0,1066.0 L573.2,1066.5 L574.5,1066.9 L575.7,1067.2 L577.0,1067.4 L578.2,1067.6 L579.5,1067.8 L580.7,1067.9 L582.0,1068.0 L583.2,1068.0 Z" fill="#b84d7d" stroke="#fff" stroke-width="2.2"/>
<path d="M465.4,1068.2 L466.6,1068.2 L467.9,1068.1 L469.1,1068.1 L470.4,1068.1 L471.6,1068.0 L472.9,1068.0 L474.1,1067.9 L475.4,1067.7 L476.6,1067.6 L477.9,1067.3 L479.1,1067.1 L480.4,1066.7 L481.6,1066.2 L482.9,1065.6 L484.1,1064.8 L485.4,1063.9 L486.6,1062.7 L487.9,1061.4 L489.1,1059.7 L490.4,1057.8 L491.6,1055.6 L492.9,1053.0 L494.1,1050.1 L495.4,1046.8 L496.6,1043.2 L497.9,1039.3 L499.1,1035.2 L500.4,1030.8 L501.6,1026.2 L502.9,1021.6 L504.1,1016.9 L505.4,1012.4 L506.6,1008.0 L507.9,1004.0 L509.1,1000.3 L510.4,997.2 L511.6,994.7 L512.9,992.8 L514.1,991.7 L515.4,991.3 L516.6,991.7 L517.9,992.8 L519.1,994.7 L520.4,997.2 L521.6,1000.3 L522.9,1004.0 L524.1,1008.0 L525.4,1012.4 L526.6,1016.9 L527.9,1021.6 L529.1,1026.2 L530.4,1030.8 L531.6,1035.2 L532.9,1039.3 L534.1,1043.2 L535.4,1046.8 L536.6,1050.1 L537.9,1053.0 L539.1,1055.6 L540.4,1057.8 L541.6,1059.7 L542.9,1061.4 L544.1,1062.7 L545.4,1063.9 L546.6,1064.8 L547.9,1065.6 L549.1,1066.2 L550.4,1066.7 L551.6,1067.1 L552.9,1067.3 L554.1,1067.6 L555.4,1067.7 L556.6,1067.9 L557.9,1068.0 L559.1,1068.0 L560.4,1068.1 L561.6,1068.1 L562.9,1068.1 L564.1,1068.2 L565.4,1068.2 Z" fill="#c0e864" stroke="#fff" stroke-width="2.2"/>
<path d="M458.3,964.7 V1068.2 H614.5" fill="none" stroke="#fff" stroke-width="3"/>
<path d="M850,1131 L850.8,983.3 L854.6,983.7 L858.5,984.7 L862.3,986.3 L866.1,988.4 L870.0,991.1 L873.9,994.3 L877.7,997.9 L881.5,1001.9 L885.4,1006.3 L889.2,1011.0 L893.1,1016.1 L897.0,1021.3 L900.8,1026.7 L904.6,1032.3 L908.5,1037.9 L912.4,1043.5 L916.2,1049.2 L920.0,1054.8 L923.9,1060.2 L927.8,1065.6 L931.6,1070.8 L935.5,1075.8 L937.3,1131 Z" fill="#7cb4d2"/>
<line x1="850" y1="985" x2="850" y2="1131" stroke="#555" stroke-width="1.4"/>
<line x1="937.3" y1="1075.8" x2="937.3" y2="1131" stroke="#555" stroke-width="1.4"/>
<path d="M716.0,1117.7 L719.9,1115.8 L723.7,1113.6 L727.5,1111.2 L731.4,1108.6 L735.2,1105.7 L739.1,1102.6 L743.0,1099.2 L746.8,1095.6 L750.6,1091.7 L754.5,1087.5 L758.4,1083.1 L762.2,1078.5 L766.0,1073.6 L769.9,1068.5 L773.8,1063.2 L777.6,1057.8 L781.5,1052.3 L785.3,1046.7 L789.1,1041.0 L793.0,1035.4 L796.9,1029.8 L800.7,1024.3 L804.5,1019.0 L808.4,1013.8 L812.2,1008.9 L816.1,1004.3 L820.0,1000.1 L823.8,996.2 L827.6,992.8 L831.5,989.9 L835.4,987.4 L839.2,985.6 L843.0,984.2 L846.9,983.5 L850.8,983.3 L854.6,983.7 L858.5,984.7 L862.3,986.3 L866.1,988.4 L870.0,991.1 L873.9,994.3 L877.7,997.9 L881.5,1001.9 L885.4,1006.3 L889.2,1011.0 L893.1,1016.1 L897.0,1021.3 L900.8,1026.7 L904.6,1032.3 L908.5,1037.9 L912.4,1043.5 L916.2,1049.2 L920.0,1054.8 L923.9,1060.2 L927.8,1065.6 L931.6,1070.8 L935.5,1075.8 L939.3,1080.5 L943.1,1085.1 L947.0,1089.4 L950.9,1093.4 L954.7,1097.2 L958.5,1100.8 L962.4,1104.0 L966.2,1107.0 L970.1,1109.8 L974.0,1112.3 L977.8,1114.6 L981.6,1116.7 L985.5,1118.5 L989.4,1120.2 L993.2,1121.6 L997.0,1123.0 L1000.9,1124.1 L1004.8,1125.1 L1008.6,1126.0 L1012.5,1126.8 L1016.3,1127.4 L1020.1,1128.0 L1024.0,1128.5" fill="none" stroke="#555" stroke-width="1.4"/>
<line x1="722" y1="1131" x2="1045.6" y2="1131" stroke="#777" stroke-width="1.4"/>
<path d="M569.0,1202.5 L571.1,1202.3 L573.2,1201.7 L575.2,1200.9 L577.3,1199.7 L579.4,1198.3 L581.5,1196.5 L583.6,1194.5 L585.6,1192.2 L587.7,1189.6 L589.8,1186.7 L591.9,1183.6 L594.0,1180.3 L596.0,1176.7 L598.1,1173.0 L600.2,1169.0 L602.3,1164.8 L604.4,1160.5 L606.4,1156.1 L608.5,1151.5 L610.6,1146.8 L612.7,1142.0 L614.8,1137.2 L616.8,1132.3 L618.9,1127.3 L621.0,1122.4 L623.1,1117.4 L625.2,1112.5 L627.2,1107.6 L629.3,1102.8 L631.4,1098.0 L633.5,1093.4 L635.6,1088.9 L637.6,1084.5 L639.7,1080.2 L641.8,1076.2 L643.9,1072.3 L646.0,1068.6 L648.0,1065.2 L650.1,1062.0 L652.2,1059.0 L654.3,1056.3 L656.4,1053.8 L658.4,1051.6 L660.5,1049.7 L662.6,1048.1 L664.7,1046.8 L666.8,1045.8 L668.8,1045.1 L670.9,1044.7 L673.0,1044.6 L675.1,1044.8 L677.2,1045.4 L679.2,1046.2 L681.3,1047.4 L683.4,1048.8 L685.5,1050.6 L687.6,1052.6 L689.6,1054.9 L691.7,1057.5 L693.8,1060.4 L695.9,1063.5 L698.0,1066.8 L700.0,1070.4 L702.1,1074.1 L704.2,1078.1 L706.3,1082.3 L708.4,1086.6 L710.4,1091.0 L712.5,1095.6 L714.6,1100.3 L716.7,1105.1 L718.8,1109.9 L720.8,1114.8 L722.9,1119.8 L725.0,1124.7 L727.1,1129.7 L729.2,1134.6 L731.2,1139.5 L733.3,1144.3 L735.4,1149.1 L737.5,1153.7 L739.6,1158.2 L741.6,1162.6 L743.7,1166.9 L745.8,1170.9 L747.9,1174.8 L750.0,1178.5 L752.0,1181.9 L754.1,1185.1 L756.2,1188.1 L758.3,1190.8 L760.4,1193.3 L762.4,1195.5 L764.5,1197.4 L766.6,1199.0 L768.7,1200.3 L770.8,1201.3 L772.8,1202.0 L774.9,1202.4 L777.0,1202.5 Z" fill="#bcdfbc" stroke="#5e9c6c" stroke-width="1.8"/>
<path d="M572.2,1105 V1203.7 H773.7" fill="none" stroke="#6d7d99" stroke-width="1.8"/>
<text x="653.0" y="933.6" font-size="25.36" fill="#000" stroke="#000" stroke-width="0.45" textLength="279.1" lengthAdjust="spacingAndGlyphs">Faster-Than-Real-Time</text>
<text x="653.0" y="970.0" font-size="25.36" fill="#000" stroke="#000" stroke-width="0.45" textLength="195.6" lengthAdjust="spacingAndGlyphs">Tsunami Hazard</text>
<text x="653.0" y="1005.5" font-size="25.36" fill="#000" stroke="#000" stroke-width="0.45" textLength="102.8" lengthAdjust="spacingAndGlyphs">Forecast</text>
<text x="1110.8" y="933.0" font-size="26.52" fill="#000" stroke="#000" stroke-width="0.45" textLength="280.2" lengthAdjust="spacingAndGlyphs">Continuous Evaluation</text>
<text x="918.4" y="1210.5" font-size="25.36" fill="#000" stroke="#000" stroke-width="0.45" textLength="307.9" lengthAdjust="spacingAndGlyphs">&amp; Iterative Development</text>
<circle cx="1012.8" cy="988.2" r="82" fill="#0e9da7"/>
<rect x="999.1" y="956.7" width="27.3" height="25.9" fill="none" stroke="#fff" stroke-width="5.6"/>
<path d="M1004,967 L1014.5,976.3 L1039,948.3" fill="none" stroke="#0e9da7" stroke-width="11"/>
<path d="M1004,967 L1014.5,976.3 L1039,948.3" fill="none" stroke="#fff" stroke-width="6.5"/>
<text x="936.4" y="1014.1" font-size="18.55" fill="#fff" font-weight="bold" textLength="152.0" lengthAdjust="spacingAndGlyphs">USER-FRIENDLY</text>
<g transform="translate(1000,860) scale(0.47148)" stroke="#1e3550" stroke-width="10" stroke-linejoin="round" stroke-linecap="round">
<circle cx="396.5" cy="425.3" r="135.4" fill="#d5d9de" stroke="none"/>
<polygon points="463.2,414.3 484.1,417.5 484.1,442.5 463.2,445.7 454.4,467.1 466.9,484.2 449.2,501.9 432.1,489.4 410.7,498.2 407.5,519.1 382.5,519.1 379.3,498.2 357.9,489.4 340.8,501.9 323.1,484.2 335.6,467.1 326.8,445.7 305.9,442.5 305.9,417.5 326.8,414.3 335.6,392.9 323.1,375.8 340.8,358.1 357.9,370.6 379.3,361.8 382.5,340.9 407.5,340.9 410.7,361.8 432.1,370.6 449.2,358.1 466.9,375.8 454.4,392.9" fill="#fff" stroke-width="12"/>
<circle cx="395" cy="430" r="33" fill="#d5d9de" stroke-width="12"/>
<path d="M283.9,288.7 A177,177 0 0 0 221.2,449.9" fill="none" stroke-width="10" stroke-linecap="butt" stroke-dasharray="10,12"/>
<path d="M572.6,407.4 A177,177 0 0 1 503.0,566.7" fill="none" stroke-width="10" stroke-linecap="butt" stroke-dasharray="10,12"/>
<path d="M564.3,245.8 L466.8,220.4 Q447.3,214.6 431.7,222.4 L334.1,273.1 Q318.5,282.9 326.3,298.5 Q334.1,308.2 349.7,304.3 L423.9,286.8 Q427.8,302.4 439.5,310.2 L517.5,325.8 L564.3,327.7 Z" fill="#fff" stroke-width="11"/>
<path d="M427.8,282.9 Q459,271.2 490.2,269.2 Q494,270 492.1,273.1" fill="none" stroke-width="9"/>
<rect x="569.8" y="239.6" width="49.5" height="104.1" fill="#5cbf9a" stroke-width="11"/>
<path d="M226.8,526.7 L263.9,526.7 L306.8,545.1 L357.5,546.2 Q377,550.1 373.9,566.9 L445.3,550.1 Q464.8,546.2 463.7,565.8 Q462.1,575.5 451.2,579.4 L349.7,634 Q340,639.9 328.2,634 L291.2,614.5 L226.8,610.6 Z" fill="#fff" stroke-width="11"/>
<path d="M299,593.1 Q306.8,579.4 330.2,579.4 L373.1,575.5" fill="none" stroke-width="9"/>
<rect x="171.8" y="516.6" width="49.5" height="104.1" fill="#ffc35a" stroke-width="11"/>
</g>
<g transform="translate(1000,860) scale(0.47148)" stroke="#000" stroke-width="20" stroke-linejoin="round" fill="none">
<rect x="695" y="237" width="500" height="468" rx="18" fill="#fef2f1"/>
<line x1="695" y1="345" x2="945" y2="345"/>
<rect x="731" y="272" width="31" height="33" stroke-width="18"/>
<rect x="802" y="272" width="33" height="33" stroke-width="18"/>
<rect x="876" y="272" width="31" height="33" stroke-width="18"/>
<rect x="725" y="378" width="270" height="112"/>
<circle cx="782" cy="595" r="52"/><path d="M782,545 V595 L745,630"/><path d="M782,595 H834"/>
<rect x="893" y="528" width="120" height="28" stroke-width="18"/>
<line x1="885" y1="598" x2="915" y2="598" stroke-width="18"/>
<line x1="940" y1="598" x2="1010" y2="598" stroke-width="18"/>
<line x1="885" y1="633" x2="1010" y2="633" stroke-width="18"/>
<line x1="885" y1="668" x2="915" y2="668" stroke-width="18"/>
<line x1="940" y1="668" x2="1010" y2="668" stroke-width="18"/>
<rect x="945" y="160" width="292" height="270" rx="18" fill="#fef2f1"/>
<line x1="1000" y1="208" x2="1000" y2="365" stroke-width="14"/>
<circle cx="1000" cy="290" r="20" fill="#fef2f1" stroke-width="14"/>
<line x1="1090" y1="208" x2="1090" y2="365" stroke-width="14"/>
<circle cx="1090" cy="235" r="20" fill="#fef2f1" stroke-width="14"/>
<line x1="1180" y1="208" x2="1180" y2="365" stroke-width="14"/>
<circle cx="1180" cy="250" r="20" fill="#fef2f1" stroke-width="14"/>
<path d="M1036,708 V589 Q1000,520 1002,440 V415 A22,22 0 0 1 1046,415 V480 A12.5,12.5 0 0 0 1071,480 V340 A21,21 0 0 1 1113,340 V395 A18.5,18.5 0 0 1 1150,395 V405 A18.5,18.5 0 0 1 1187,405 V430 A18.5,18.5 0 0 1 1224,430 V500 Q1224,560 1199,589 V708 Z" fill="#fef2f1"/>
<path d="M1113,392 V484 M1150,402 V484 M1187,428 V484" stroke-width="18"/>
<line x1="1036" y1="589" x2="1199" y2="589"/>
</g>
</svg></body></html>
